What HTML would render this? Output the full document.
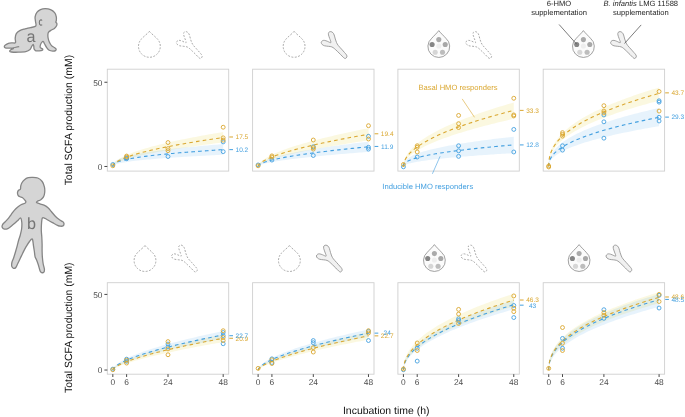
<!DOCTYPE html><html><head><meta charset="utf-8"><style>html,body{margin:0;padding:0;background:#fff;width:685px;height:417px;overflow:hidden}svg{display:block;will-change:transform;text-rendering:geometricPrecision;font-family:"Liberation Sans",sans-serif}</style></head><body>
<svg width="685" height="417" viewBox="0 0 685 417">
<rect width="685" height="417" fill="#fff"/>
<clipPath id="cp00"><rect x="107.3" y="69.2" width="121.4" height="101.9"/></clipPath>
<g clip-path="url(#cp00)">
<path d="M112.82,166.47 L112.93,165.6 L113.16,164.87 L113.51,164.14 L113.97,163.39 L114.54,162.65 L115.12,162.03 L116.27,160.97 L117.42,160.07 L118.57,159.27 L119.72,158.55 L122.02,157.24 L124.31,156.09 L126.61,155.04 L128.91,154.07 L131.21,153.16 L133.51,152.3 L135.81,151.49 L138.11,150.71 L140.41,149.96 L142.71,149.25 L145.01,148.56 L147.31,147.89 L149.61,147.24 L151.91,146.61 L154.2,146 L156.5,145.41 L158.8,144.82 L161.1,144.26 L163.4,143.7 L165.7,143.16 L168,142.62 L170.3,142.1 L172.6,141.59 L174.9,141.08 L177.2,140.59 L179.5,140.1 L181.8,139.62 L184.09,139.15 L186.39,138.68 L188.69,138.23 L190.99,137.77 L193.29,137.33 L195.59,136.89 L197.89,136.45 L200.19,136.02 L202.49,135.6 L204.79,135.18 L207.09,134.77 L209.39,134.36 L211.69,133.95 L213.98,133.55 L216.28,133.16 L218.58,132.77 L220.88,132.38 L223.18,131.99 L223.18,142.42 L220.88,142.71 L218.58,143 L216.28,143.29 L213.98,143.58 L211.69,143.88 L209.39,144.18 L207.09,144.49 L204.79,144.79 L202.49,145.1 L200.19,145.42 L197.89,145.73 L195.59,146.05 L193.29,146.38 L190.99,146.71 L188.69,147.04 L186.39,147.38 L184.09,147.72 L181.8,148.07 L179.5,148.42 L177.2,148.78 L174.9,149.14 L172.6,149.51 L170.3,149.89 L168,150.27 L165.7,150.66 L163.4,151.05 L161.1,151.46 L158.8,151.87 L156.5,152.29 L154.2,152.72 L151.91,153.16 L149.61,153.62 L147.31,154.08 L145.01,154.56 L142.71,155.06 L140.41,155.57 L138.11,156.1 L135.81,156.65 L133.51,157.22 L131.21,157.83 L128.91,158.47 L126.61,159.14 L124.31,159.87 L122.02,160.67 L119.72,161.55 L118.57,162.05 L117.42,162.58 L116.27,163.18 L115.12,163.87 L114.54,164.27 L113.97,164.73 L113.51,165.16 L113.16,165.57 L112.93,165.98 L112.82,166.47 Z" fill="rgba(225,205,50,0.15)" stroke="none"/>
<path d="M112.82,166.47 L112.93,165.01 L113.16,164.16 L113.51,163.38 L113.97,162.65 L114.54,162.01 L115.12,161.49 L116.27,160.65 L117.42,159.97 L118.57,159.38 L119.72,158.86 L122.02,157.97 L124.31,157.2 L126.61,156.52 L128.91,155.91 L131.21,155.34 L133.51,154.82 L135.81,154.33 L138.11,153.88 L140.41,153.44 L142.71,153.03 L145.01,152.63 L147.31,152.26 L149.61,151.89 L151.91,151.55 L154.2,151.21 L156.5,150.88 L158.8,150.57 L161.1,150.26 L163.4,149.96 L165.7,149.68 L168,149.39 L170.3,149.12 L172.6,148.85 L174.9,148.59 L177.2,148.33 L179.5,148.08 L181.8,147.84 L184.09,147.59 L186.39,147.36 L188.69,147.13 L190.99,146.9 L193.29,146.68 L195.59,146.46 L197.89,146.24 L200.19,146.03 L202.49,145.82 L204.79,145.61 L207.09,145.41 L209.39,145.21 L211.69,145.01 L213.98,144.82 L216.28,144.63 L218.58,144.44 L220.88,144.25 L223.18,144.07 L223.18,154.68 L220.88,154.79 L218.58,154.91 L216.28,155.02 L213.98,155.14 L211.69,155.26 L209.39,155.38 L207.09,155.5 L204.79,155.63 L202.49,155.75 L200.19,155.88 L197.89,156.01 L195.59,156.14 L193.29,156.28 L190.99,156.41 L188.69,156.55 L186.39,156.69 L184.09,156.83 L181.8,156.98 L179.5,157.13 L177.2,157.28 L174.9,157.43 L172.6,157.59 L170.3,157.75 L168,157.91 L165.7,158.08 L163.4,158.25 L161.1,158.43 L158.8,158.61 L156.5,158.79 L154.2,158.98 L151.91,159.18 L149.61,159.38 L147.31,159.59 L145.01,159.81 L142.71,160.04 L140.41,160.28 L138.11,160.53 L135.81,160.79 L133.51,161.06 L131.21,161.35 L128.91,161.67 L126.61,162.01 L124.31,162.38 L122.02,162.79 L119.72,163.27 L118.57,163.54 L117.42,163.84 L116.27,164.18 L115.12,164.6 L114.54,164.85 L113.97,165.15 L113.51,165.4 L113.16,165.67 L112.93,165.96 L112.82,166.47 Z" fill="rgba(70,160,230,0.13)" stroke="none"/>
<path d="M112.82,166.47 L112.93,165.51 L113.16,164.95 L113.51,164.44 L113.97,163.96 L114.54,163.5 L115.12,163.12 L116.27,162.5 L117.42,161.99 L118.57,161.56 L119.72,161.17 L122.02,160.49 L124.31,159.91 L126.61,159.39 L128.91,158.92 L131.21,158.49 L133.51,158.09 L135.81,157.71 L138.11,157.36 L140.41,157.02 L142.71,156.7 L145.01,156.39 L147.31,156.1 L149.61,155.82 L151.91,155.54 L154.2,155.28 L156.5,155.03 L158.8,154.78 L161.1,154.54 L163.4,154.3 L165.7,154.08 L168,153.85 L170.3,153.64 L172.6,153.43 L174.9,153.22 L177.2,153.02 L179.5,152.82 L181.8,152.62 L184.09,152.43 L186.39,152.25 L188.69,152.06 L190.99,151.88 L193.29,151.7 L195.59,151.53 L197.89,151.36 L200.19,151.19 L202.49,151.02 L204.79,150.86 L207.09,150.7 L209.39,150.54 L211.69,150.38 L213.98,150.23 L216.28,150.07 L218.58,149.92 L220.88,149.77 L223.18,149.63" fill="none" stroke="#44A0E0" stroke-width="1.1" stroke-dasharray="3.6 3.2"/>
<path d="M112.82,166.47 L112.93,165.8 L113.16,165.24 L113.51,164.68 L113.97,164.1 L114.54,163.51 L115.12,163 L116.27,162.14 L117.42,161.4 L118.57,160.74 L119.72,160.13 L122.02,159.05 L124.31,158.09 L126.61,157.2 L128.91,156.39 L131.21,155.62 L133.51,154.9 L135.81,154.21 L138.11,153.55 L140.41,152.92 L142.71,152.31 L145.01,151.73 L147.31,151.16 L149.61,150.61 L151.91,150.07 L154.2,149.55 L156.5,149.04 L158.8,148.54 L161.1,148.06 L163.4,147.58 L165.7,147.11 L168,146.66 L170.3,146.21 L172.6,145.77 L174.9,145.34 L177.2,144.91 L179.5,144.49 L181.8,144.08 L184.09,143.67 L186.39,143.27 L188.69,142.88 L190.99,142.49 L193.29,142.1 L195.59,141.73 L197.89,141.35 L200.19,140.98 L202.49,140.62 L204.79,140.25 L207.09,139.9 L209.39,139.54 L211.69,139.19 L213.98,138.85 L216.28,138.51 L218.58,138.17 L220.88,137.83 L223.18,137.5" fill="none" stroke="#DAA730" stroke-width="1.1" stroke-dasharray="3.6 3.2"/>
<circle cx="112.82" cy="164.45" r="1.95" fill="none" stroke="#44A0E0" stroke-width="0.9"/>
<circle cx="126.61" cy="158.05" r="1.95" fill="none" stroke="#44A0E0" stroke-width="0.9"/>
<circle cx="126.61" cy="158.72" r="1.95" fill="none" stroke="#44A0E0" stroke-width="0.9"/>
<circle cx="168" cy="156.53" r="1.95" fill="none" stroke="#44A0E0" stroke-width="0.9"/>
<circle cx="223.18" cy="141.88" r="1.95" fill="none" stroke="#44A0E0" stroke-width="0.9"/>
<circle cx="223.18" cy="151.65" r="1.95" fill="none" stroke="#44A0E0" stroke-width="0.9"/>
<circle cx="112.82" cy="165.79" r="1.95" fill="none" stroke="#DAA730" stroke-width="0.9"/>
<circle cx="126.61" cy="156.03" r="1.95" fill="none" stroke="#DAA730" stroke-width="0.9"/>
<circle cx="126.61" cy="157.04" r="1.95" fill="none" stroke="#DAA730" stroke-width="0.9"/>
<circle cx="168" cy="142.55" r="1.95" fill="none" stroke="#DAA730" stroke-width="0.9"/>
<circle cx="168" cy="148.61" r="1.95" fill="none" stroke="#DAA730" stroke-width="0.9"/>
<circle cx="168" cy="150.64" r="1.95" fill="none" stroke="#DAA730" stroke-width="0.9"/>
<circle cx="223.18" cy="127.22" r="1.95" fill="none" stroke="#DAA730" stroke-width="0.9"/>
<circle cx="223.18" cy="137.84" r="1.95" fill="none" stroke="#DAA730" stroke-width="0.9"/>
<circle cx="223.18" cy="140.19" r="1.95" fill="none" stroke="#DAA730" stroke-width="0.9"/>
</g>
<rect x="107.3" y="69.2" width="121.4" height="101.9" fill="none" stroke="#cfcfcf" stroke-width="0.9"/>
<line x1="229.3" y1="136.99" x2="233" y2="136.99" stroke="#DAA730" stroke-width="1"/>
<text x="241.9" y="139.34" font-size="6.5" fill="#DAA730" text-anchor="middle">17.5</text>
<line x1="229.3" y1="149.63" x2="233" y2="149.63" stroke="#44A0E0" stroke-width="1"/>
<text x="241.9" y="151.98" font-size="6.5" fill="#44A0E0" text-anchor="middle">10.2</text>
<clipPath id="cp01"><rect x="252.6" y="69.2" width="121.4" height="101.9"/></clipPath>
<g clip-path="url(#cp01)">
<path d="M258.12,166.47 L258.23,165.74 L258.46,165.08 L258.81,164.37 L259.27,163.64 L259.84,162.91 L260.42,162.27 L261.57,161.19 L262.72,160.25 L263.87,159.4 L265.02,158.63 L267.32,157.23 L269.61,155.98 L271.91,154.83 L274.21,153.76 L276.51,152.75 L278.81,151.8 L281.11,150.88 L283.41,150.01 L285.71,149.17 L288.01,148.36 L290.31,147.58 L292.61,146.82 L294.91,146.08 L297.21,145.36 L299.5,144.65 L301.8,143.97 L304.1,143.3 L306.4,142.64 L308.7,142 L311,141.36 L313.3,140.74 L315.6,140.14 L317.9,139.54 L320.2,138.95 L322.5,138.37 L324.8,137.8 L327.1,137.23 L329.39,136.68 L331.69,136.13 L333.99,135.59 L336.29,135.06 L338.59,134.53 L340.89,134.01 L343.19,133.5 L345.49,132.99 L347.79,132.49 L350.09,131.99 L352.39,131.5 L354.69,131.01 L356.99,130.53 L359.28,130.05 L361.58,129.58 L363.88,129.11 L366.18,128.65 L368.48,128.19 L368.48,140.41 L366.18,140.74 L363.88,141.08 L361.58,141.42 L359.28,141.77 L356.99,142.11 L354.69,142.46 L352.39,142.81 L350.09,143.17 L347.79,143.53 L345.49,143.89 L343.19,144.26 L340.89,144.63 L338.59,145 L336.29,145.38 L333.99,145.77 L331.69,146.15 L329.39,146.55 L327.1,146.94 L324.8,147.35 L322.5,147.76 L320.2,148.17 L317.9,148.59 L315.6,149.02 L313.3,149.45 L311,149.89 L308.7,150.34 L306.4,150.79 L304.1,151.26 L301.8,151.73 L299.5,152.21 L297.21,152.71 L294.91,153.21 L292.61,153.73 L290.31,154.26 L288.01,154.81 L285.71,155.37 L283.41,155.95 L281.11,156.55 L278.81,157.18 L276.51,157.83 L274.21,158.52 L271.91,159.24 L269.61,160.02 L267.32,160.85 L265.02,161.77 L263.87,162.28 L262.72,162.82 L261.57,163.42 L260.42,164.11 L259.84,164.5 L259.27,164.94 L258.81,165.34 L258.46,165.72 L258.23,166.08 L258.12,166.47 Z" fill="rgba(225,205,50,0.15)" stroke="none"/>
<path d="M258.12,166.47 L258.23,165.79 L258.46,165.24 L258.81,164.68 L259.27,164.11 L259.84,163.57 L260.42,163.11 L261.57,162.33 L262.72,161.67 L263.87,161.09 L265.02,160.56 L267.32,159.61 L269.61,158.78 L271.91,158.02 L274.21,157.32 L276.51,156.66 L278.81,156.05 L281.11,155.47 L283.41,154.91 L285.71,154.38 L288.01,153.86 L290.31,153.37 L292.61,152.89 L294.91,152.43 L297.21,151.98 L299.5,151.55 L301.8,151.12 L304.1,150.71 L306.4,150.31 L308.7,149.91 L311,149.53 L313.3,149.15 L315.6,148.78 L317.9,148.41 L320.2,148.06 L322.5,147.7 L324.8,147.36 L327.1,147.02 L329.39,146.69 L331.69,146.36 L333.99,146.03 L336.29,145.71 L338.59,145.4 L340.89,145.09 L343.19,144.78 L345.49,144.48 L347.79,144.18 L350.09,143.88 L352.39,143.59 L354.69,143.3 L356.99,143.02 L359.28,142.74 L361.58,142.46 L363.88,142.18 L366.18,141.91 L368.48,141.64 L368.48,151.89 L366.18,152.06 L363.88,152.24 L361.58,152.42 L359.28,152.6 L356.99,152.78 L354.69,152.97 L352.39,153.15 L350.09,153.34 L347.79,153.53 L345.49,153.72 L343.19,153.92 L340.89,154.11 L338.59,154.31 L336.29,154.52 L333.99,154.72 L331.69,154.93 L329.39,155.14 L327.1,155.35 L324.8,155.57 L322.5,155.78 L320.2,156.01 L317.9,156.23 L315.6,156.46 L313.3,156.7 L311,156.94 L308.7,157.18 L306.4,157.43 L304.1,157.68 L301.8,157.94 L299.5,158.2 L297.21,158.47 L294.91,158.75 L292.61,159.03 L290.31,159.32 L288.01,159.63 L285.71,159.94 L283.41,160.26 L281.11,160.6 L278.81,160.95 L276.51,161.32 L274.21,161.7 L271.91,162.12 L269.61,162.56 L267.32,163.04 L265.02,163.58 L263.87,163.87 L262.72,164.2 L261.57,164.56 L260.42,164.97 L259.84,165.21 L259.27,165.48 L258.81,165.72 L258.46,165.95 L258.23,166.18 L258.12,166.47 Z" fill="rgba(70,160,230,0.13)" stroke="none"/>
<path d="M258.12,166.47 L258.23,165.99 L258.46,165.6 L258.81,165.2 L259.27,164.8 L259.84,164.39 L260.42,164.04 L261.57,163.44 L262.72,162.93 L263.87,162.48 L265.02,162.07 L267.32,161.33 L269.61,160.67 L271.91,160.07 L274.21,159.51 L276.51,158.99 L278.81,158.5 L281.11,158.03 L283.41,157.59 L285.71,157.16 L288.01,156.75 L290.31,156.35 L292.61,155.96 L294.91,155.59 L297.21,155.23 L299.5,154.87 L301.8,154.53 L304.1,154.19 L306.4,153.87 L308.7,153.55 L311,153.23 L313.3,152.92 L315.6,152.62 L317.9,152.32 L320.2,152.03 L322.5,151.74 L324.8,151.46 L327.1,151.18 L329.39,150.91 L331.69,150.64 L333.99,150.38 L336.29,150.11 L338.59,149.86 L340.89,149.6 L343.19,149.35 L345.49,149.1 L347.79,148.86 L350.09,148.61 L352.39,148.37 L354.69,148.13 L356.99,147.9 L359.28,147.67 L361.58,147.44 L363.88,147.21 L366.18,146.99 L368.48,146.76" fill="none" stroke="#44A0E0" stroke-width="1.1" stroke-dasharray="3.6 3.2"/>
<path d="M258.12,166.47 L258.23,165.91 L258.46,165.4 L258.81,164.86 L259.27,164.29 L259.84,163.7 L260.42,163.19 L261.57,162.31 L262.72,161.54 L263.87,160.84 L265.02,160.2 L267.32,159.04 L269.61,158 L271.91,157.04 L274.21,156.14 L276.51,155.29 L278.81,154.49 L281.11,153.72 L283.41,152.98 L285.71,152.27 L288.01,151.58 L290.31,150.92 L292.61,150.27 L294.91,149.64 L297.21,149.03 L299.5,148.43 L301.8,147.85 L304.1,147.28 L306.4,146.72 L308.7,146.17 L311,145.63 L313.3,145.1 L315.6,144.58 L317.9,144.06 L320.2,143.56 L322.5,143.06 L324.8,142.57 L327.1,142.09 L329.39,141.61 L331.69,141.14 L333.99,140.68 L336.29,140.22 L338.59,139.77 L340.89,139.32 L343.19,138.88 L345.49,138.44 L347.79,138.01 L350.09,137.58 L352.39,137.16 L354.69,136.74 L356.99,136.32 L359.28,135.91 L361.58,135.5 L363.88,135.1 L366.18,134.7 L368.48,134.3" fill="none" stroke="#DAA730" stroke-width="1.1" stroke-dasharray="3.6 3.2"/>
<circle cx="258.12" cy="164.95" r="1.95" fill="none" stroke="#44A0E0" stroke-width="0.9"/>
<circle cx="271.91" cy="160.07" r="1.95" fill="none" stroke="#44A0E0" stroke-width="0.9"/>
<circle cx="313.3" cy="146.76" r="1.95" fill="none" stroke="#44A0E0" stroke-width="0.9"/>
<circle cx="313.3" cy="155.52" r="1.95" fill="none" stroke="#44A0E0" stroke-width="0.9"/>
<circle cx="368.48" cy="136.32" r="1.95" fill="none" stroke="#44A0E0" stroke-width="0.9"/>
<circle cx="368.48" cy="147.27" r="1.95" fill="none" stroke="#44A0E0" stroke-width="0.9"/>
<circle cx="368.48" cy="149.12" r="1.95" fill="none" stroke="#44A0E0" stroke-width="0.9"/>
<circle cx="258.12" cy="165.79" r="1.95" fill="none" stroke="#DAA730" stroke-width="0.9"/>
<circle cx="271.91" cy="155.86" r="1.95" fill="none" stroke="#DAA730" stroke-width="0.9"/>
<circle cx="271.91" cy="157.04" r="1.95" fill="none" stroke="#DAA730" stroke-width="0.9"/>
<circle cx="313.3" cy="140.02" r="1.95" fill="none" stroke="#DAA730" stroke-width="0.9"/>
<circle cx="313.3" cy="147.6" r="1.95" fill="none" stroke="#DAA730" stroke-width="0.9"/>
<circle cx="313.3" cy="149.12" r="1.95" fill="none" stroke="#DAA730" stroke-width="0.9"/>
<circle cx="368.48" cy="125.71" r="1.95" fill="none" stroke="#DAA730" stroke-width="0.9"/>
<circle cx="368.48" cy="139.01" r="1.95" fill="none" stroke="#DAA730" stroke-width="0.9"/>
</g>
<rect x="252.6" y="69.2" width="121.4" height="101.9" fill="none" stroke="#cfcfcf" stroke-width="0.9"/>
<line x1="374.6" y1="133.79" x2="378.3" y2="133.79" stroke="#DAA730" stroke-width="1"/>
<text x="387.2" y="136.14" font-size="6.5" fill="#DAA730" text-anchor="middle">19.4</text>
<line x1="374.6" y1="146.43" x2="378.3" y2="146.43" stroke="#44A0E0" stroke-width="1"/>
<text x="387.2" y="148.78" font-size="6.5" fill="#44A0E0" text-anchor="middle">11.9</text>
<clipPath id="cp02"><rect x="397.9" y="69.2" width="121.4" height="101.9"/></clipPath>
<g clip-path="url(#cp02)">
<path d="M403.42,166.47 L403.53,164.36 L403.76,162.79 L404.11,161.25 L404.57,159.7 L405.14,158.22 L405.72,156.97 L406.87,154.88 L408.02,153.12 L409.17,151.58 L410.32,150.18 L412.62,147.71 L414.91,145.53 L417.21,143.56 L419.51,141.76 L421.81,140.08 L424.11,138.5 L426.41,137.01 L428.71,135.59 L431.01,134.24 L433.31,132.94 L435.61,131.69 L437.91,130.48 L440.21,129.32 L442.51,128.19 L444.8,127.09 L447.1,126.03 L449.4,124.99 L451.7,123.98 L454,122.99 L456.3,122.03 L458.6,121.08 L460.9,120.16 L463.2,119.25 L465.5,118.36 L467.8,117.49 L470.1,116.63 L472.4,115.79 L474.69,114.96 L476.99,114.15 L479.29,113.35 L481.59,112.56 L483.89,111.78 L486.19,111.01 L488.49,110.25 L490.79,109.51 L493.09,108.77 L495.39,108.04 L497.69,107.33 L499.99,106.62 L502.29,105.92 L504.58,105.22 L506.88,104.54 L509.18,103.86 L511.48,103.19 L513.78,102.53 L513.78,118.79 L511.48,119.32 L509.18,119.85 L506.88,120.38 L504.58,120.92 L502.29,121.47 L499.99,122.02 L497.69,122.58 L495.39,123.15 L493.09,123.72 L490.79,124.3 L488.49,124.88 L486.19,125.48 L483.89,126.08 L481.59,126.69 L479.29,127.31 L476.99,127.94 L474.69,128.58 L472.4,129.22 L470.1,129.88 L467.8,130.55 L465.5,131.23 L463.2,131.92 L460.9,132.63 L458.6,133.35 L456.3,134.08 L454,134.83 L451.7,135.6 L449.4,136.38 L447.1,137.18 L444.8,138 L442.51,138.85 L440.21,139.72 L437.91,140.61 L435.61,141.54 L433.31,142.49 L431.01,143.49 L428.71,144.52 L426.41,145.6 L424.11,146.73 L421.81,147.92 L419.51,149.18 L417.21,150.54 L414.91,152.01 L412.62,153.62 L410.32,155.44 L409.17,156.46 L408.02,157.58 L406.87,158.85 L405.72,160.33 L405.14,161.21 L404.57,162.24 L404.11,163.2 L403.76,164.17 L403.53,165.15 L403.42,166.47 Z" fill="rgba(225,205,50,0.15)" stroke="none"/>
<path d="M403.42,166.47 L403.53,164.71 L403.76,163.63 L404.11,162.64 L404.57,161.69 L405.14,160.86 L405.72,160.18 L406.87,159.08 L408.02,158.18 L409.17,157.41 L410.32,156.73 L412.62,155.54 L414.91,154.52 L417.21,153.61 L419.51,152.79 L421.81,152.04 L424.11,151.34 L426.41,150.68 L428.71,150.07 L431.01,149.48 L433.31,148.92 L435.61,148.39 L437.91,147.88 L440.21,147.39 L442.51,146.92 L444.8,146.46 L447.1,146.02 L449.4,145.59 L451.7,145.18 L454,144.77 L456.3,144.38 L458.6,144 L460.9,143.62 L463.2,143.26 L465.5,142.9 L467.8,142.55 L470.1,142.21 L472.4,141.88 L474.69,141.55 L476.99,141.22 L479.29,140.91 L481.59,140.6 L483.89,140.29 L486.19,139.99 L488.49,139.7 L490.79,139.41 L493.09,139.12 L495.39,138.84 L497.69,138.56 L499.99,138.28 L502.29,138.01 L504.58,137.75 L506.88,137.49 L509.18,137.23 L511.48,136.97 L513.78,136.72 L513.78,153.1 L511.48,153.24 L509.18,153.38 L506.88,153.52 L504.58,153.66 L502.29,153.81 L499.99,153.96 L497.69,154.11 L495.39,154.26 L493.09,154.41 L490.79,154.56 L488.49,154.72 L486.19,154.88 L483.89,155.04 L481.59,155.2 L479.29,155.37 L476.99,155.54 L474.69,155.71 L472.4,155.89 L470.1,156.06 L467.8,156.24 L465.5,156.43 L463.2,156.62 L460.9,156.81 L458.6,157 L456.3,157.2 L454,157.41 L451.7,157.62 L449.4,157.83 L447.1,158.05 L444.8,158.28 L442.51,158.51 L440.21,158.75 L437.91,159 L435.61,159.26 L433.31,159.53 L431.01,159.8 L428.71,160.09 L426.41,160.4 L424.11,160.72 L421.81,161.06 L419.51,161.42 L417.21,161.81 L414.91,162.23 L412.62,162.7 L410.32,163.23 L409.17,163.53 L408.02,163.87 L406.87,164.25 L405.72,164.69 L405.14,164.96 L404.57,165.27 L404.11,165.51 L403.76,165.76 L403.53,166.03 L403.42,166.47 Z" fill="rgba(70,160,230,0.13)" stroke="none"/>
<path d="M403.42,166.47 L403.53,165.37 L403.76,164.7 L404.11,164.08 L404.57,163.48 L405.14,162.91 L405.72,162.44 L406.87,161.66 L408.02,161.03 L409.17,160.47 L410.32,159.98 L412.62,159.12 L414.91,158.37 L417.21,157.71 L419.51,157.11 L421.81,156.55 L424.11,156.03 L426.41,155.54 L428.71,155.08 L431.01,154.64 L433.31,154.23 L435.61,153.83 L437.91,153.44 L440.21,153.07 L442.51,152.72 L444.8,152.37 L447.1,152.04 L449.4,151.71 L451.7,151.4 L454,151.09 L456.3,150.79 L458.6,150.5 L460.9,150.22 L463.2,149.94 L465.5,149.67 L467.8,149.4 L470.1,149.14 L472.4,148.88 L474.69,148.63 L476.99,148.38 L479.29,148.14 L481.59,147.9 L483.89,147.67 L486.19,147.44 L488.49,147.21 L490.79,146.98 L493.09,146.76 L495.39,146.55 L497.69,146.33 L499.99,146.12 L502.29,145.91 L504.58,145.71 L506.88,145.5 L509.18,145.3 L511.48,145.1 L513.78,144.91" fill="none" stroke="#44A0E0" stroke-width="1.1" stroke-dasharray="3.6 3.2"/>
<path d="M403.42,166.47 L403.53,164.74 L403.76,163.46 L404.11,162.19 L404.57,160.93 L405.14,159.66 L405.72,158.59 L406.87,156.8 L408.02,155.28 L409.17,153.94 L410.32,152.72 L412.62,150.56 L414.91,148.66 L417.21,146.93 L419.51,145.34 L421.81,143.86 L424.11,142.47 L426.41,141.15 L428.71,139.9 L431.01,138.7 L433.31,137.55 L435.61,136.44 L437.91,135.37 L440.21,134.34 L442.51,133.34 L444.8,132.36 L447.1,131.41 L449.4,130.49 L451.7,129.59 L454,128.71 L456.3,127.85 L458.6,127 L460.9,126.18 L463.2,125.37 L465.5,124.58 L467.8,123.8 L470.1,123.03 L472.4,122.28 L474.69,121.53 L476.99,120.81 L479.29,120.09 L481.59,119.38 L483.89,118.68 L486.19,117.99 L488.49,117.32 L490.79,116.65 L493.09,115.99 L495.39,115.33 L497.69,114.69 L499.99,114.05 L502.29,113.42 L504.58,112.8 L506.88,112.19 L509.18,111.58 L511.48,110.98 L513.78,110.38" fill="none" stroke="#DAA730" stroke-width="1.1" stroke-dasharray="3.6 3.2"/>
<circle cx="403.42" cy="166.81" r="1.95" fill="none" stroke="#44A0E0" stroke-width="0.9"/>
<circle cx="417.21" cy="157.04" r="1.95" fill="none" stroke="#44A0E0" stroke-width="0.9"/>
<circle cx="458.6" cy="145.75" r="1.95" fill="none" stroke="#44A0E0" stroke-width="0.9"/>
<circle cx="458.6" cy="150.8" r="1.95" fill="none" stroke="#44A0E0" stroke-width="0.9"/>
<circle cx="458.6" cy="156.36" r="1.95" fill="none" stroke="#44A0E0" stroke-width="0.9"/>
<circle cx="513.78" cy="129.41" r="1.95" fill="none" stroke="#44A0E0" stroke-width="0.9"/>
<circle cx="513.78" cy="151.98" r="1.95" fill="none" stroke="#44A0E0" stroke-width="0.9"/>
<circle cx="403.42" cy="164.45" r="1.95" fill="none" stroke="#DAA730" stroke-width="0.9"/>
<circle cx="417.21" cy="145.75" r="1.95" fill="none" stroke="#DAA730" stroke-width="0.9"/>
<circle cx="417.21" cy="147.27" r="1.95" fill="none" stroke="#DAA730" stroke-width="0.9"/>
<circle cx="417.21" cy="151.98" r="1.95" fill="none" stroke="#DAA730" stroke-width="0.9"/>
<circle cx="458.6" cy="115.43" r="1.95" fill="none" stroke="#DAA730" stroke-width="0.9"/>
<circle cx="458.6" cy="123.69" r="1.95" fill="none" stroke="#DAA730" stroke-width="0.9"/>
<circle cx="458.6" cy="127.56" r="1.95" fill="none" stroke="#DAA730" stroke-width="0.9"/>
<circle cx="513.78" cy="98.25" r="1.95" fill="none" stroke="#DAA730" stroke-width="0.9"/>
<circle cx="513.78" cy="114.93" r="1.95" fill="none" stroke="#DAA730" stroke-width="0.9"/>
<circle cx="513.78" cy="115.94" r="1.95" fill="none" stroke="#DAA730" stroke-width="0.9"/>
</g>
<rect x="397.9" y="69.2" width="121.4" height="101.9" fill="none" stroke="#cfcfcf" stroke-width="0.9"/>
<line x1="519.9" y1="110.38" x2="523.6" y2="110.38" stroke="#DAA730" stroke-width="1"/>
<text x="532.5" y="112.73" font-size="6.5" fill="#DAA730" text-anchor="middle">33.3</text>
<line x1="519.9" y1="144.91" x2="523.6" y2="144.91" stroke="#44A0E0" stroke-width="1"/>
<text x="532.5" y="147.26" font-size="6.5" fill="#44A0E0" text-anchor="middle">12.8</text>
<clipPath id="cp03"><rect x="543.2" y="69.2" width="121.4" height="101.9"/></clipPath>
<g clip-path="url(#cp03)">
<path d="M548.72,166.47 L548.83,161.97 L549.06,159.3 L549.41,156.86 L549.87,154.54 L550.44,152.37 L551.02,150.59 L552.17,147.7 L553.32,145.33 L554.47,143.29 L555.62,141.47 L557.92,138.31 L560.21,135.59 L562.51,133.16 L564.81,130.97 L567.11,128.95 L569.41,127.07 L571.71,125.31 L574.01,123.65 L576.31,122.08 L578.61,120.58 L580.91,119.15 L583.21,117.77 L585.51,116.45 L587.81,115.18 L590.1,113.94 L592.4,112.75 L594.7,111.6 L597,110.47 L599.3,109.38 L601.6,108.32 L603.9,107.28 L606.2,106.27 L608.5,105.28 L610.8,104.31 L613.1,103.37 L615.4,102.44 L617.7,101.53 L619.99,100.64 L622.29,99.77 L624.59,98.91 L626.89,98.07 L629.19,97.24 L631.49,96.42 L633.79,95.62 L636.09,94.83 L638.39,94.05 L640.69,93.28 L642.99,92.53 L645.29,91.79 L647.59,91.05 L649.88,90.33 L652.18,89.61 L654.48,88.91 L656.78,88.21 L659.08,87.52 L659.08,100.68 L656.78,101.28 L654.48,101.88 L652.18,102.5 L649.88,103.12 L647.59,103.75 L645.29,104.39 L642.99,105.03 L640.69,105.69 L638.39,106.35 L636.09,107.03 L633.79,107.71 L631.49,108.41 L629.19,109.12 L626.89,109.84 L624.59,110.57 L622.29,111.31 L619.99,112.06 L617.7,112.84 L615.4,113.62 L613.1,114.42 L610.8,115.24 L608.5,116.07 L606.2,116.93 L603.9,117.8 L601.6,118.69 L599.3,119.61 L597,120.55 L594.7,121.51 L592.4,122.5 L590.1,123.53 L587.81,124.58 L585.51,125.68 L583.21,126.81 L580.91,127.98 L578.61,129.21 L576.31,130.48 L574.01,131.82 L571.71,133.24 L569.41,134.73 L567.11,136.32 L564.81,138.03 L562.51,139.88 L560.21,141.92 L557.92,144.21 L555.62,146.84 L554.47,148.35 L553.32,150.04 L552.17,151.99 L551.02,154.36 L550.44,155.8 L549.87,157.55 L549.41,159.28 L549.06,161.11 L548.83,163.1 L548.72,166.47 Z" fill="rgba(225,205,50,0.15)" stroke="none"/>
<path d="M548.72,166.47 L548.83,163.44 L549.06,161.53 L549.41,159.75 L549.87,158.04 L550.44,156.47 L551.02,155.18 L552.17,153.07 L553.32,151.34 L554.47,149.84 L555.62,148.5 L557.92,146.17 L560.21,144.16 L562.51,142.36 L564.81,140.73 L567.11,139.22 L569.41,137.82 L571.71,136.51 L574.01,135.27 L576.31,134.09 L578.61,132.97 L580.91,131.89 L583.21,130.86 L585.51,129.87 L587.81,128.91 L590.1,127.98 L592.4,127.08 L594.7,126.21 L597,125.36 L599.3,124.54 L601.6,123.74 L603.9,122.95 L606.2,122.19 L608.5,121.44 L610.8,120.71 L613.1,119.99 L615.4,119.29 L617.7,118.6 L619.99,117.92 L622.29,117.26 L624.59,116.61 L626.89,115.97 L629.19,115.34 L631.49,114.72 L633.79,114.11 L636.09,113.51 L638.39,112.92 L640.69,112.33 L642.99,111.76 L645.29,111.19 L647.59,110.63 L649.88,110.08 L652.18,109.54 L654.48,109 L656.78,108.47 L659.08,107.94 L659.08,126.14 L656.78,126.53 L654.48,126.93 L652.18,127.33 L649.88,127.74 L647.59,128.15 L645.29,128.57 L642.99,129 L640.69,129.43 L638.39,129.86 L636.09,130.3 L633.79,130.75 L631.49,131.2 L629.19,131.66 L626.89,132.13 L624.59,132.61 L622.29,133.09 L619.99,133.58 L617.7,134.08 L615.4,134.59 L613.1,135.11 L610.8,135.64 L608.5,136.18 L606.2,136.73 L603.9,137.29 L601.6,137.86 L599.3,138.45 L597,139.06 L594.7,139.68 L592.4,140.31 L590.1,140.97 L587.81,141.64 L585.51,142.34 L583.21,143.06 L580.91,143.8 L578.61,144.58 L576.31,145.39 L574.01,146.23 L571.71,147.12 L569.41,148.05 L567.11,149.05 L564.81,150.11 L562.51,151.26 L560.21,152.52 L557.92,153.91 L555.62,155.52 L554.47,156.43 L553.32,157.44 L552.17,158.6 L551.02,159.99 L550.44,160.82 L549.87,161.83 L549.41,162.77 L549.06,163.75 L548.83,164.8 L548.72,166.47 Z" fill="rgba(70,160,230,0.13)" stroke="none"/>
<path d="M548.72,166.47 L548.83,164.14 L549.06,162.67 L549.41,161.3 L549.87,159.99 L550.44,158.71 L551.02,157.65 L552.17,155.91 L553.32,154.47 L554.47,153.22 L555.62,152.11 L557.92,150.15 L560.21,148.45 L562.51,146.93 L564.81,145.55 L567.11,144.27 L569.41,143.08 L571.71,141.96 L574.01,140.9 L576.31,139.89 L578.61,138.93 L580.91,138.01 L583.21,137.12 L585.51,136.27 L587.81,135.45 L590.1,134.65 L592.4,133.88 L594.7,133.12 L597,132.39 L599.3,131.68 L601.6,130.99 L603.9,130.31 L606.2,129.65 L608.5,129.01 L610.8,128.37 L613.1,127.75 L615.4,127.15 L617.7,126.55 L619.99,125.96 L622.29,125.39 L624.59,124.82 L626.89,124.27 L629.19,123.72 L631.49,123.18 L633.79,122.65 L636.09,122.13 L638.39,121.62 L640.69,121.11 L642.99,120.61 L645.29,120.12 L647.59,119.63 L649.88,119.15 L652.18,118.68 L654.48,118.21 L656.78,117.74 L659.08,117.29" fill="none" stroke="#44A0E0" stroke-width="1.1" stroke-dasharray="3.6 3.2"/>
<path d="M548.72,166.47 L548.83,162.47 L549.06,160.11 L549.41,157.94 L549.87,155.88 L550.44,153.89 L551.02,152.27 L552.17,149.61 L553.32,147.42 L554.47,145.54 L555.62,143.86 L557.92,140.93 L560.21,138.4 L562.51,136.15 L564.81,134.11 L567.11,132.23 L569.41,130.48 L571.71,128.83 L574.01,127.28 L576.31,125.81 L578.61,124.41 L580.91,123.07 L583.21,121.79 L585.51,120.55 L587.81,119.36 L590.1,118.2 L592.4,117.09 L594.7,116 L597,114.95 L599.3,113.93 L601.6,112.93 L603.9,111.95 L606.2,111 L608.5,110.08 L610.8,109.17 L613.1,108.28 L615.4,107.41 L617.7,106.56 L619.99,105.72 L622.29,104.9 L624.59,104.09 L626.89,103.3 L629.19,102.52 L631.49,101.75 L633.79,100.99 L636.09,100.25 L638.39,99.52 L640.69,98.8 L642.99,98.09 L645.29,97.39 L647.59,96.69 L649.88,96.01 L652.18,95.34 L654.48,94.67 L656.78,94.02 L659.08,93.37" fill="none" stroke="#DAA730" stroke-width="1.1" stroke-dasharray="3.6 3.2"/>
<circle cx="562.51" cy="145.75" r="1.95" fill="none" stroke="#44A0E0" stroke-width="0.9"/>
<circle cx="562.51" cy="150.13" r="1.95" fill="none" stroke="#44A0E0" stroke-width="0.9"/>
<circle cx="603.9" cy="114.93" r="1.95" fill="none" stroke="#44A0E0" stroke-width="0.9"/>
<circle cx="603.9" cy="121.83" r="1.95" fill="none" stroke="#44A0E0" stroke-width="0.9"/>
<circle cx="603.9" cy="138.17" r="1.95" fill="none" stroke="#44A0E0" stroke-width="0.9"/>
<circle cx="659.08" cy="100.78" r="1.95" fill="none" stroke="#44A0E0" stroke-width="0.9"/>
<circle cx="659.08" cy="102.13" r="1.95" fill="none" stroke="#44A0E0" stroke-width="0.9"/>
<circle cx="659.08" cy="117.29" r="1.95" fill="none" stroke="#44A0E0" stroke-width="0.9"/>
<circle cx="659.08" cy="120.99" r="1.95" fill="none" stroke="#44A0E0" stroke-width="0.9"/>
<circle cx="548.72" cy="165.96" r="1.95" fill="none" stroke="#DAA730" stroke-width="0.9"/>
<circle cx="548.72" cy="166.97" r="1.95" fill="none" stroke="#DAA730" stroke-width="0.9"/>
<circle cx="562.51" cy="132.61" r="1.95" fill="none" stroke="#DAA730" stroke-width="0.9"/>
<circle cx="562.51" cy="134.3" r="1.95" fill="none" stroke="#DAA730" stroke-width="0.9"/>
<circle cx="562.51" cy="136.15" r="1.95" fill="none" stroke="#DAA730" stroke-width="0.9"/>
<circle cx="603.9" cy="105.67" r="1.95" fill="none" stroke="#DAA730" stroke-width="0.9"/>
<circle cx="603.9" cy="111.05" r="1.95" fill="none" stroke="#DAA730" stroke-width="0.9"/>
<circle cx="603.9" cy="112.91" r="1.95" fill="none" stroke="#DAA730" stroke-width="0.9"/>
<circle cx="659.08" cy="91.52" r="1.95" fill="none" stroke="#DAA730" stroke-width="0.9"/>
<circle cx="659.08" cy="111.05" r="1.95" fill="none" stroke="#DAA730" stroke-width="0.9"/>
</g>
<rect x="543.2" y="69.2" width="121.4" height="101.9" fill="none" stroke="#cfcfcf" stroke-width="0.9"/>
<line x1="665.2" y1="92.86" x2="668.9" y2="92.86" stroke="#DAA730" stroke-width="1"/>
<text x="677.8" y="95.21" font-size="6.5" fill="#DAA730" text-anchor="middle">43.7</text>
<line x1="665.2" y1="117.12" x2="668.9" y2="117.12" stroke="#44A0E0" stroke-width="1"/>
<text x="677.8" y="119.47" font-size="6.5" fill="#44A0E0" text-anchor="middle">29.3</text>
<clipPath id="cp10"><rect x="107.3" y="282.7" width="121.4" height="91.5"/></clipPath>
<g clip-path="url(#cp10)">
<path d="M112.82,370.04 L112.93,369.52 L113.16,368.98 L113.51,368.38 L113.97,367.73 L114.54,367.12 L115.12,366.59 L116.27,365.66 L117.42,364.85 L118.57,364.12 L119.72,363.44 L122.02,362.2 L124.31,361.08 L126.61,360.04 L128.91,359.07 L131.21,358.15 L133.51,357.27 L135.81,356.43 L138.11,355.62 L140.41,354.83 L142.71,354.07 L145.01,353.34 L147.31,352.62 L149.61,351.92 L151.91,351.24 L154.2,350.57 L156.5,349.92 L158.8,349.27 L161.1,348.64 L163.4,348.03 L165.7,347.42 L168,346.82 L170.3,346.23 L172.6,345.65 L174.9,345.08 L177.2,344.52 L179.5,343.96 L181.8,343.41 L184.09,342.87 L186.39,342.33 L188.69,341.8 L190.99,341.28 L193.29,340.76 L195.59,340.25 L197.89,339.74 L200.19,339.24 L202.49,338.75 L204.79,338.25 L207.09,337.77 L209.39,337.28 L211.69,336.8 L213.98,336.33 L216.28,335.86 L218.58,335.39 L220.88,334.93 L223.18,334.47 L223.18,342.09 L220.88,342.49 L218.58,342.89 L216.28,343.29 L213.98,343.69 L211.69,344.1 L209.39,344.51 L207.09,344.93 L204.79,345.35 L202.49,345.77 L200.19,346.19 L197.89,346.62 L195.59,347.06 L193.29,347.49 L190.99,347.93 L188.69,348.38 L186.39,348.83 L184.09,349.29 L181.8,349.75 L179.5,350.21 L177.2,350.68 L174.9,351.16 L172.6,351.64 L170.3,352.13 L168,352.62 L165.7,353.12 L163.4,353.63 L161.1,354.15 L158.8,354.67 L156.5,355.2 L154.2,355.75 L151.91,356.3 L149.61,356.86 L147.31,357.44 L145.01,358.03 L142.71,358.63 L140.41,359.25 L138.11,359.88 L135.81,360.53 L133.51,361.21 L131.21,361.91 L128.91,362.64 L126.61,363.4 L124.31,364.21 L122.02,365.07 L119.72,366 L118.57,366.5 L117.42,367.03 L116.27,367.61 L115.12,368.25 L114.54,368.6 L113.97,368.99 L113.51,369.29 L113.16,369.56 L112.93,369.8 L112.82,370.04 Z" fill="rgba(225,205,50,0.15)" stroke="none"/>
<path d="M112.82,370.04 L112.93,369.33 L113.16,368.66 L113.51,367.93 L113.97,367.15 L114.54,366.43 L115.12,365.81 L116.27,364.73 L117.42,363.8 L118.57,362.96 L119.72,362.19 L122.02,360.8 L124.31,359.55 L126.61,358.39 L128.91,357.32 L131.21,356.3 L133.51,355.34 L135.81,354.42 L138.11,353.53 L140.41,352.68 L142.71,351.86 L145.01,351.06 L147.31,350.29 L149.61,349.53 L151.91,348.8 L154.2,348.08 L156.5,347.38 L158.8,346.69 L161.1,346.02 L163.4,345.36 L165.7,344.71 L168,344.08 L170.3,343.45 L172.6,342.84 L174.9,342.23 L177.2,341.63 L179.5,341.05 L181.8,340.47 L184.09,339.89 L186.39,339.33 L188.69,338.77 L190.99,338.22 L193.29,337.68 L195.59,337.14 L197.89,336.61 L200.19,336.08 L202.49,335.56 L204.79,335.04 L207.09,334.53 L209.39,334.03 L211.69,333.53 L213.98,333.03 L216.28,332.54 L218.58,332.05 L220.88,331.57 L223.18,331.09 L223.18,338.81 L220.88,339.23 L218.58,339.66 L216.28,340.08 L213.98,340.51 L211.69,340.95 L209.39,341.38 L207.09,341.83 L204.79,342.27 L202.49,342.72 L200.19,343.17 L197.89,343.63 L195.59,344.09 L193.29,344.56 L190.99,345.03 L188.69,345.51 L186.39,346 L184.09,346.48 L181.8,346.98 L179.5,347.48 L177.2,347.99 L174.9,348.5 L172.6,349.02 L170.3,349.55 L168,350.08 L165.7,350.63 L163.4,351.18 L161.1,351.74 L158.8,352.32 L156.5,352.9 L154.2,353.49 L151.91,354.1 L149.61,354.72 L147.31,355.35 L145.01,356 L142.71,356.67 L140.41,357.35 L138.11,358.06 L135.81,358.79 L133.51,359.55 L131.21,360.34 L128.91,361.16 L126.61,362.03 L124.31,362.95 L122.02,363.94 L119.72,365.02 L118.57,365.61 L117.42,366.24 L116.27,366.93 L115.12,367.71 L114.54,368.14 L113.97,368.63 L113.51,369.01 L113.16,369.37 L112.93,369.7 L112.82,370.04 Z" fill="rgba(70,160,230,0.13)" stroke="none"/>
<path d="M112.82,370.04 L112.93,369.52 L113.16,369.01 L113.51,368.47 L113.97,367.89 L114.54,367.29 L115.12,366.76 L116.27,365.83 L117.42,365.02 L118.57,364.29 L119.72,363.61 L122.02,362.37 L124.31,361.25 L126.61,360.21 L128.91,359.24 L131.21,358.32 L133.51,357.44 L135.81,356.6 L138.11,355.8 L140.41,355.02 L142.71,354.26 L145.01,353.53 L147.31,352.82 L149.61,352.13 L151.91,351.45 L154.2,350.79 L156.5,350.14 L158.8,349.51 L161.1,348.88 L163.4,348.27 L165.7,347.67 L168,347.08 L170.3,346.5 L172.6,345.93 L174.9,345.37 L177.2,344.81 L179.5,344.26 L181.8,343.72 L184.09,343.19 L186.39,342.66 L188.69,342.14 L190.99,341.63 L193.29,341.12 L195.59,340.62 L197.89,340.12 L200.19,339.63 L202.49,339.14 L204.79,338.66 L207.09,338.18 L209.39,337.71 L211.69,337.24 L213.98,336.77 L216.28,336.31 L218.58,335.86 L220.88,335.4 L223.18,334.95" fill="none" stroke="#44A0E0" stroke-width="1.1" stroke-dasharray="3.6 3.2"/>
<path d="M112.82,370.04 L112.93,369.66 L113.16,369.27 L113.51,368.83 L113.97,368.36 L114.54,367.86 L115.12,367.42 L116.27,366.64 L117.42,365.94 L118.57,365.31 L119.72,364.72 L122.02,363.64 L124.31,362.64 L126.61,361.72 L128.91,360.85 L131.21,360.03 L133.51,359.24 L135.81,358.48 L138.11,357.75 L140.41,357.04 L142.71,356.35 L145.01,355.68 L147.31,355.03 L149.61,354.39 L151.91,353.77 L154.2,353.16 L156.5,352.56 L158.8,351.97 L161.1,351.4 L163.4,350.83 L165.7,350.27 L168,349.72 L170.3,349.18 L172.6,348.65 L174.9,348.12 L177.2,347.6 L179.5,347.09 L181.8,346.58 L184.09,346.08 L186.39,345.58 L188.69,345.09 L190.99,344.61 L193.29,344.13 L195.59,343.65 L197.89,343.18 L200.19,342.72 L202.49,342.26 L204.79,341.8 L207.09,341.35 L209.39,340.9 L211.69,340.45 L213.98,340.01 L216.28,339.57 L218.58,339.14 L220.88,338.71 L223.18,338.28" fill="none" stroke="#DAA730" stroke-width="1.1" stroke-dasharray="3.6 3.2"/>
<circle cx="112.82" cy="369.13" r="1.95" fill="none" stroke="#44A0E0" stroke-width="0.9"/>
<circle cx="126.61" cy="359.15" r="1.95" fill="none" stroke="#44A0E0" stroke-width="0.9"/>
<circle cx="126.61" cy="361.27" r="1.95" fill="none" stroke="#44A0E0" stroke-width="0.9"/>
<circle cx="168" cy="344.03" r="1.95" fill="none" stroke="#44A0E0" stroke-width="0.9"/>
<circle cx="168" cy="346.9" r="1.95" fill="none" stroke="#44A0E0" stroke-width="0.9"/>
<circle cx="223.18" cy="332.53" r="1.95" fill="none" stroke="#44A0E0" stroke-width="0.9"/>
<circle cx="223.18" cy="335.56" r="1.95" fill="none" stroke="#44A0E0" stroke-width="0.9"/>
<circle cx="223.18" cy="343.73" r="1.95" fill="none" stroke="#44A0E0" stroke-width="0.9"/>
<circle cx="112.82" cy="369.74" r="1.95" fill="none" stroke="#DAA730" stroke-width="0.9"/>
<circle cx="126.61" cy="360.06" r="1.95" fill="none" stroke="#DAA730" stroke-width="0.9"/>
<circle cx="126.61" cy="363.08" r="1.95" fill="none" stroke="#DAA730" stroke-width="0.9"/>
<circle cx="168" cy="341.61" r="1.95" fill="none" stroke="#DAA730" stroke-width="0.9"/>
<circle cx="168" cy="348.87" r="1.95" fill="none" stroke="#DAA730" stroke-width="0.9"/>
<circle cx="168" cy="354.77" r="1.95" fill="none" stroke="#DAA730" stroke-width="0.9"/>
<circle cx="223.18" cy="330.72" r="1.95" fill="none" stroke="#DAA730" stroke-width="0.9"/>
<circle cx="223.18" cy="337.52" r="1.95" fill="none" stroke="#DAA730" stroke-width="0.9"/>
<circle cx="223.18" cy="340.55" r="1.95" fill="none" stroke="#DAA730" stroke-width="0.9"/>
</g>
<rect x="107.3" y="282.7" width="121.4" height="91.5" fill="none" stroke="#cfcfcf" stroke-width="0.9"/>
<line x1="229.3" y1="338.28" x2="233" y2="338.28" stroke="#DAA730" stroke-width="1"/>
<text x="241.9" y="340.63" font-size="6.5" fill="#DAA730" text-anchor="middle">20.9</text>
<line x1="229.3" y1="335.71" x2="233" y2="335.71" stroke="#44A0E0" stroke-width="1"/>
<text x="241.9" y="338.06" font-size="6.5" fill="#44A0E0" text-anchor="middle">22.7</text>
<clipPath id="cp11"><rect x="252.6" y="282.7" width="121.4" height="91.5"/></clipPath>
<g clip-path="url(#cp11)">
<path d="M258.12,370.04 L258.23,369.53 L258.46,368.98 L258.81,368.38 L259.27,367.72 L259.84,367.09 L260.42,366.54 L261.57,365.57 L262.72,364.72 L263.87,363.95 L265.02,363.24 L267.32,361.93 L269.61,360.75 L271.91,359.65 L274.21,358.61 L276.51,357.63 L278.81,356.69 L281.11,355.79 L283.41,354.93 L285.71,354.09 L288.01,353.28 L290.31,352.49 L292.61,351.72 L294.91,350.97 L297.21,350.23 L299.5,349.52 L301.8,348.81 L304.1,348.12 L306.4,347.44 L308.7,346.78 L311,346.12 L313.3,345.48 L315.6,344.84 L317.9,344.22 L320.2,343.6 L322.5,342.99 L324.8,342.39 L327.1,341.8 L329.39,341.21 L331.69,340.63 L333.99,340.06 L336.29,339.49 L338.59,338.93 L340.89,338.38 L343.19,337.83 L345.49,337.28 L347.79,336.74 L350.09,336.21 L352.39,335.68 L354.69,335.16 L356.99,334.64 L359.28,334.12 L361.58,333.61 L363.88,333.1 L366.18,332.6 L368.48,332.1 L368.48,339.62 L366.18,340.06 L363.88,340.49 L361.58,340.94 L359.28,341.38 L356.99,341.83 L354.69,342.28 L352.39,342.74 L350.09,343.2 L347.79,343.66 L345.49,344.13 L343.19,344.6 L340.89,345.07 L338.59,345.55 L336.29,346.03 L333.99,346.52 L331.69,347.01 L329.39,347.51 L327.1,348.02 L324.8,348.53 L322.5,349.04 L320.2,349.56 L317.9,350.09 L315.6,350.62 L313.3,351.16 L311,351.71 L308.7,352.26 L306.4,352.83 L304.1,353.4 L301.8,353.98 L299.5,354.58 L297.21,355.18 L294.91,355.79 L292.61,356.42 L290.31,357.06 L288.01,357.71 L285.71,358.38 L283.41,359.07 L281.11,359.78 L278.81,360.52 L276.51,361.28 L274.21,362.07 L271.91,362.89 L269.61,363.76 L267.32,364.69 L265.02,365.69 L263.87,366.23 L262.72,366.81 L261.57,367.43 L260.42,368.11 L259.84,368.49 L259.27,368.91 L258.81,369.23 L258.46,369.53 L258.23,369.79 L258.12,370.04 Z" fill="rgba(225,205,50,0.15)" stroke="none"/>
<path d="M258.12,370.04 L258.23,369.29 L258.46,368.58 L258.81,367.82 L259.27,367.01 L259.84,366.26 L260.42,365.6 L261.57,364.48 L262.72,363.5 L263.87,362.63 L265.02,361.82 L267.32,360.37 L269.61,359.06 L271.91,357.85 L274.21,356.73 L276.51,355.67 L278.81,354.66 L281.11,353.7 L283.41,352.78 L285.71,351.89 L288.01,351.04 L290.31,350.21 L292.61,349.4 L294.91,348.61 L297.21,347.85 L299.5,347.1 L301.8,346.37 L304.1,345.66 L306.4,344.96 L308.7,344.27 L311,343.6 L313.3,342.94 L315.6,342.29 L317.9,341.65 L320.2,341.02 L322.5,340.4 L324.8,339.79 L327.1,339.18 L329.39,338.59 L331.69,338 L333.99,337.42 L336.29,336.85 L338.59,336.28 L340.89,335.73 L343.19,335.17 L345.49,334.63 L347.79,334.08 L350.09,333.55 L352.39,333.02 L354.69,332.5 L356.99,331.98 L359.28,331.46 L361.58,330.95 L363.88,330.45 L366.18,329.94 L368.48,329.45 L368.48,336.83 L366.18,337.27 L363.88,337.71 L361.58,338.16 L359.28,338.62 L356.99,339.07 L354.69,339.53 L352.39,340 L350.09,340.46 L347.79,340.94 L345.49,341.41 L343.19,341.9 L340.89,342.38 L338.59,342.88 L336.29,343.37 L333.99,343.88 L331.69,344.39 L329.39,344.9 L327.1,345.42 L324.8,345.95 L322.5,346.49 L320.2,347.03 L317.9,347.58 L315.6,348.13 L313.3,348.7 L311,349.27 L308.7,349.86 L306.4,350.45 L304.1,351.06 L301.8,351.67 L299.5,352.3 L297.21,352.94 L294.91,353.6 L292.61,354.27 L290.31,354.96 L288.01,355.66 L285.71,356.39 L283.41,357.14 L281.11,357.92 L278.81,358.72 L276.51,359.56 L274.21,360.44 L271.91,361.36 L269.61,362.34 L267.32,363.4 L265.02,364.56 L263.87,365.19 L262.72,365.87 L261.57,366.61 L260.42,367.45 L259.84,367.92 L259.27,368.46 L258.81,368.88 L258.46,369.28 L258.23,369.65 L258.12,370.04 Z" fill="rgba(70,160,230,0.13)" stroke="none"/>
<path d="M258.12,370.04 L258.23,369.47 L258.46,368.93 L258.81,368.35 L259.27,367.73 L259.84,367.09 L260.42,366.53 L261.57,365.54 L262.72,364.69 L263.87,363.91 L265.02,363.19 L267.32,361.88 L269.61,360.7 L271.91,359.61 L274.21,358.58 L276.51,357.61 L278.81,356.69 L281.11,355.81 L283.41,354.96 L285.71,354.14 L288.01,353.35 L290.31,352.58 L292.61,351.83 L294.91,351.11 L297.21,350.4 L299.5,349.7 L301.8,349.02 L304.1,348.36 L306.4,347.71 L308.7,347.07 L311,346.44 L313.3,345.82 L315.6,345.21 L317.9,344.61 L320.2,344.02 L322.5,343.44 L324.8,342.87 L327.1,342.3 L329.39,341.75 L331.69,341.19 L333.99,340.65 L336.29,340.11 L338.59,339.58 L340.89,339.05 L343.19,338.53 L345.49,338.02 L347.79,337.51 L350.09,337.01 L352.39,336.51 L354.69,336.01 L356.99,335.52 L359.28,335.04 L361.58,334.56 L363.88,334.08 L366.18,333.61 L368.48,333.14" fill="none" stroke="#44A0E0" stroke-width="1.1" stroke-dasharray="3.6 3.2"/>
<path d="M258.12,370.04 L258.23,369.66 L258.46,369.26 L258.81,368.8 L259.27,368.31 L259.84,367.79 L260.42,367.32 L261.57,366.5 L262.72,365.77 L263.87,365.09 L265.02,364.47 L267.32,363.31 L269.61,362.26 L271.91,361.27 L274.21,360.34 L276.51,359.45 L278.81,358.61 L281.11,357.79 L283.41,357 L285.71,356.24 L288.01,355.5 L290.31,354.77 L292.61,354.07 L294.91,353.38 L297.21,352.71 L299.5,352.05 L301.8,351.4 L304.1,350.76 L306.4,350.14 L308.7,349.52 L311,348.92 L313.3,348.32 L315.6,347.73 L317.9,347.15 L320.2,346.58 L322.5,346.02 L324.8,345.46 L327.1,344.91 L329.39,344.36 L331.69,343.82 L333.99,343.29 L336.29,342.76 L338.59,342.24 L340.89,341.72 L343.19,341.21 L345.49,340.7 L347.79,340.2 L350.09,339.7 L352.39,339.21 L354.69,338.72 L356.99,338.23 L359.28,337.75 L361.58,337.27 L363.88,336.8 L366.18,336.33 L368.48,335.86" fill="none" stroke="#DAA730" stroke-width="1.1" stroke-dasharray="3.6 3.2"/>
<circle cx="271.91" cy="358.85" r="1.95" fill="none" stroke="#44A0E0" stroke-width="0.9"/>
<circle cx="271.91" cy="362.48" r="1.95" fill="none" stroke="#44A0E0" stroke-width="0.9"/>
<circle cx="313.3" cy="340.55" r="1.95" fill="none" stroke="#44A0E0" stroke-width="0.9"/>
<circle cx="313.3" cy="342.67" r="1.95" fill="none" stroke="#44A0E0" stroke-width="0.9"/>
<circle cx="368.48" cy="331.32" r="1.95" fill="none" stroke="#44A0E0" stroke-width="0.9"/>
<circle cx="368.48" cy="340.55" r="1.95" fill="none" stroke="#44A0E0" stroke-width="0.9"/>
<circle cx="258.12" cy="368.38" r="1.95" fill="none" stroke="#DAA730" stroke-width="0.9"/>
<circle cx="271.91" cy="359.76" r="1.95" fill="none" stroke="#DAA730" stroke-width="0.9"/>
<circle cx="271.91" cy="363.54" r="1.95" fill="none" stroke="#DAA730" stroke-width="0.9"/>
<circle cx="313.3" cy="347.66" r="1.95" fill="none" stroke="#DAA730" stroke-width="0.9"/>
<circle cx="313.3" cy="352.04" r="1.95" fill="none" stroke="#DAA730" stroke-width="0.9"/>
<circle cx="368.48" cy="330.72" r="1.95" fill="none" stroke="#DAA730" stroke-width="0.9"/>
<circle cx="368.48" cy="332.99" r="1.95" fill="none" stroke="#DAA730" stroke-width="0.9"/>
</g>
<rect x="252.6" y="282.7" width="121.4" height="91.5" fill="none" stroke="#cfcfcf" stroke-width="0.9"/>
<line x1="374.6" y1="335.86" x2="378.3" y2="335.86" stroke="#DAA730" stroke-width="1"/>
<text x="387.2" y="338.21" font-size="6.5" fill="#DAA730" text-anchor="middle">22.7</text>
<line x1="374.6" y1="333.14" x2="378.3" y2="333.14" stroke="#44A0E0" stroke-width="1"/>
<text x="387.2" y="335.49" font-size="6.5" fill="#44A0E0" text-anchor="middle">24</text>
<clipPath id="cp12"><rect x="397.9" y="282.7" width="121.4" height="91.5"/></clipPath>
<g clip-path="url(#cp12)">
<path d="M403.42,370.04 L403.53,366.88 L403.76,364.65 L404.11,362.48 L404.57,360.34 L405.14,358.47 L405.72,356.92 L406.87,354.35 L408.02,352.21 L409.17,350.34 L410.32,348.66 L412.62,345.7 L414.91,343.11 L417.21,340.79 L419.51,338.66 L421.81,336.69 L424.11,334.84 L426.41,333.11 L428.71,331.46 L431.01,329.88 L433.31,328.38 L435.61,326.93 L437.91,325.54 L440.21,324.2 L442.51,322.9 L444.8,321.64 L447.1,320.42 L449.4,319.22 L451.7,318.07 L454,316.93 L456.3,315.83 L458.6,314.75 L460.9,313.69 L463.2,312.66 L465.5,311.65 L467.8,310.65 L470.1,309.68 L472.4,308.72 L474.69,307.78 L476.99,306.85 L479.29,305.94 L481.59,305.05 L483.89,304.16 L486.19,303.29 L488.49,302.44 L490.79,301.59 L493.09,300.76 L495.39,299.94 L497.69,299.13 L499.99,298.32 L502.29,297.53 L504.58,296.75 L506.88,295.98 L509.18,295.22 L511.48,294.46 L513.78,293.71 L513.78,306.32 L511.48,307 L509.18,307.69 L506.88,308.39 L504.58,309.1 L502.29,309.81 L499.99,310.54 L497.69,311.27 L495.39,312.01 L493.09,312.76 L490.79,313.52 L488.49,314.29 L486.19,315.07 L483.89,315.86 L481.59,316.66 L479.29,317.47 L476.99,318.3 L474.69,319.14 L472.4,319.99 L470.1,320.86 L467.8,321.74 L465.5,322.64 L463.2,323.56 L460.9,324.49 L458.6,325.44 L456.3,326.41 L454,327.41 L451.7,328.42 L449.4,329.46 L447.1,330.53 L444.8,331.62 L442.51,332.75 L440.21,333.91 L437.91,335.1 L435.61,336.34 L433.31,337.62 L431.01,338.95 L428.71,340.34 L426.41,341.79 L424.11,343.31 L421.81,344.92 L419.51,346.64 L417.21,348.48 L414.91,350.48 L412.62,352.68 L410.32,355.18 L409.17,356.58 L408.02,358.13 L406.87,359.88 L405.72,361.95 L405.14,363.17 L404.57,364.61 L404.11,365.8 L403.76,367.02 L403.53,368.27 L403.42,370.04 Z" fill="rgba(225,205,50,0.15)" stroke="none"/>
<path d="M403.42,370.04 L403.53,367.51 L403.76,365.65 L404.11,363.82 L404.57,362 L405.14,360.35 L405.72,358.97 L406.87,356.68 L408.02,354.75 L409.17,353.06 L410.32,351.54 L412.62,348.85 L414.91,346.48 L417.21,344.35 L419.51,342.39 L421.81,340.57 L424.11,338.86 L426.41,337.25 L428.71,335.72 L431.01,334.25 L433.31,332.85 L435.61,331.5 L437.91,330.21 L440.21,328.95 L442.51,327.73 L444.8,326.55 L447.1,325.4 L449.4,324.29 L451.7,323.2 L454,322.13 L456.3,321.09 L458.6,320.08 L460.9,319.08 L463.2,318.11 L465.5,317.15 L467.8,316.21 L470.1,315.29 L472.4,314.38 L474.69,313.49 L476.99,312.62 L479.29,311.75 L481.59,310.9 L483.89,310.07 L486.19,309.24 L488.49,308.43 L490.79,307.63 L493.09,306.84 L495.39,306.06 L497.69,305.28 L499.99,304.52 L502.29,303.77 L504.58,303.03 L506.88,302.29 L509.18,301.56 L511.48,300.84 L513.78,300.13 L513.78,309.28 L511.48,309.94 L509.18,310.61 L506.88,311.29 L504.58,311.97 L502.29,312.67 L499.99,313.37 L497.69,314.07 L495.39,314.79 L493.09,315.52 L490.79,316.25 L488.49,317 L486.19,317.75 L483.89,318.51 L481.59,319.29 L479.29,320.08 L476.99,320.87 L474.69,321.68 L472.4,322.51 L470.1,323.34 L467.8,324.19 L465.5,325.06 L463.2,325.94 L460.9,326.84 L458.6,327.76 L456.3,328.69 L454,329.64 L451.7,330.62 L449.4,331.62 L447.1,332.64 L444.8,333.69 L442.51,334.77 L440.21,335.88 L437.91,337.03 L435.61,338.21 L433.31,339.43 L431.01,340.7 L428.71,342.02 L426.41,343.41 L424.11,344.86 L421.81,346.39 L419.51,348.02 L417.21,349.76 L414.91,351.65 L412.62,353.73 L410.32,356.08 L409.17,357.4 L408.02,358.85 L406.87,360.49 L405.72,362.42 L405.14,363.55 L404.57,364.89 L404.11,366.05 L403.76,367.23 L403.53,368.42 L403.42,370.04 Z" fill="rgba(70,160,230,0.13)" stroke="none"/>
<path d="M403.42,370.04 L403.53,367.97 L403.76,366.44 L404.11,364.94 L404.57,363.44 L405.14,361.95 L405.72,360.69 L406.87,358.58 L408.02,356.8 L409.17,355.23 L410.32,353.81 L412.62,351.29 L414.91,349.06 L417.21,347.05 L419.51,345.2 L421.81,343.48 L424.11,341.86 L426.41,340.33 L428.71,338.87 L431.01,337.48 L433.31,336.14 L435.61,334.86 L437.91,333.62 L440.21,332.42 L442.51,331.25 L444.8,330.12 L447.1,329.02 L449.4,327.95 L451.7,326.91 L454,325.89 L456.3,324.89 L458.6,323.92 L460.9,322.96 L463.2,322.02 L465.5,321.1 L467.8,320.2 L470.1,319.32 L472.4,318.44 L474.69,317.59 L476.99,316.74 L479.29,315.91 L481.59,315.1 L483.89,314.29 L486.19,313.5 L488.49,312.71 L490.79,311.94 L493.09,311.18 L495.39,310.42 L497.69,309.68 L499.99,308.94 L502.29,308.22 L504.58,307.5 L506.88,306.79 L509.18,306.09 L511.48,305.39 L513.78,304.71" fill="none" stroke="#44A0E0" stroke-width="1.1" stroke-dasharray="3.6 3.2"/>
<path d="M403.42,370.04 L403.53,367.58 L403.76,365.83 L404.11,364.14 L404.57,362.48 L405.14,360.82 L405.72,359.43 L406.87,357.12 L408.02,355.17 L409.17,353.46 L410.32,351.92 L412.62,349.19 L414.91,346.79 L417.21,344.63 L419.51,342.65 L421.81,340.81 L424.11,339.08 L426.41,337.45 L428.71,335.9 L431.01,334.42 L433.31,333 L435.61,331.64 L437.91,330.32 L440.21,329.05 L442.51,327.82 L444.8,326.63 L447.1,325.47 L449.4,324.34 L451.7,323.24 L454,322.17 L456.3,321.12 L458.6,320.1 L460.9,319.09 L463.2,318.11 L465.5,317.14 L467.8,316.2 L470.1,315.27 L472.4,314.36 L474.69,313.46 L476.99,312.58 L479.29,311.71 L481.59,310.85 L483.89,310.01 L486.19,309.18 L488.49,308.36 L490.79,307.55 L493.09,306.76 L495.39,305.97 L497.69,305.2 L499.99,304.43 L502.29,303.67 L504.58,302.93 L506.88,302.19 L509.18,301.45 L511.48,300.73 L513.78,300.02" fill="none" stroke="#DAA730" stroke-width="1.1" stroke-dasharray="3.6 3.2"/>
<circle cx="403.42" cy="369.74" r="1.95" fill="none" stroke="#44A0E0" stroke-width="0.9"/>
<circle cx="417.21" cy="348.26" r="1.95" fill="none" stroke="#44A0E0" stroke-width="0.9"/>
<circle cx="417.21" cy="361.12" r="1.95" fill="none" stroke="#44A0E0" stroke-width="0.9"/>
<circle cx="458.6" cy="318.77" r="1.95" fill="none" stroke="#44A0E0" stroke-width="0.9"/>
<circle cx="458.6" cy="320.43" r="1.95" fill="none" stroke="#44A0E0" stroke-width="0.9"/>
<circle cx="513.78" cy="305.46" r="1.95" fill="none" stroke="#44A0E0" stroke-width="0.9"/>
<circle cx="513.78" cy="317.56" r="1.95" fill="none" stroke="#44A0E0" stroke-width="0.9"/>
<circle cx="403.42" cy="368.98" r="1.95" fill="none" stroke="#DAA730" stroke-width="0.9"/>
<circle cx="417.21" cy="342.97" r="1.95" fill="none" stroke="#DAA730" stroke-width="0.9"/>
<circle cx="417.21" cy="350.53" r="1.95" fill="none" stroke="#DAA730" stroke-width="0.9"/>
<circle cx="458.6" cy="309.39" r="1.95" fill="none" stroke="#DAA730" stroke-width="0.9"/>
<circle cx="458.6" cy="314.08" r="1.95" fill="none" stroke="#DAA730" stroke-width="0.9"/>
<circle cx="458.6" cy="323.46" r="1.95" fill="none" stroke="#DAA730" stroke-width="0.9"/>
<circle cx="513.78" cy="295.93" r="1.95" fill="none" stroke="#DAA730" stroke-width="0.9"/>
<circle cx="513.78" cy="308.18" r="1.95" fill="none" stroke="#DAA730" stroke-width="0.9"/>
<circle cx="513.78" cy="311.66" r="1.95" fill="none" stroke="#DAA730" stroke-width="0.9"/>
</g>
<rect x="397.9" y="282.7" width="121.4" height="91.5" fill="none" stroke="#cfcfcf" stroke-width="0.9"/>
<line x1="519.9" y1="300.02" x2="523.6" y2="300.02" stroke="#DAA730" stroke-width="1"/>
<text x="532.5" y="302.37" font-size="6.5" fill="#DAA730" text-anchor="middle">46.3</text>
<line x1="519.9" y1="305.16" x2="523.6" y2="305.16" stroke="#44A0E0" stroke-width="1"/>
<text x="532.5" y="307.51" font-size="6.5" fill="#44A0E0" text-anchor="middle">43</text>
<clipPath id="cp13"><rect x="543.2" y="282.7" width="121.4" height="91.5"/></clipPath>
<g clip-path="url(#cp13)">
<path d="M548.72,370.04 L548.83,365.77 L549.06,363.1 L549.41,360.61 L549.87,358.23 L550.44,356.15 L551.02,354.45 L552.17,351.68 L553.32,349.4 L554.47,347.42 L555.62,345.67 L557.92,342.6 L560.21,339.95 L562.51,337.58 L564.81,335.44 L567.11,333.46 L569.41,331.61 L571.71,329.88 L574.01,328.25 L576.31,326.7 L578.61,325.22 L580.91,323.8 L583.21,322.44 L585.51,321.13 L587.81,319.87 L590.1,318.65 L592.4,317.47 L594.7,316.32 L597,315.2 L599.3,314.11 L601.6,313.05 L603.9,312.02 L606.2,311.01 L608.5,310.02 L610.8,309.06 L613.1,308.11 L615.4,307.19 L617.7,306.28 L619.99,305.39 L622.29,304.51 L624.59,303.65 L626.89,302.8 L629.19,301.97 L631.49,301.16 L633.79,300.35 L636.09,299.56 L638.39,298.78 L640.69,298.01 L642.99,297.25 L645.29,296.5 L647.59,295.76 L649.88,295.03 L652.18,294.31 L654.48,293.6 L656.78,292.9 L659.08,292.2 L659.08,303.11 L656.78,303.76 L654.48,304.42 L652.18,305.09 L649.88,305.76 L647.59,306.44 L645.29,307.13 L642.99,307.83 L640.69,308.54 L638.39,309.26 L636.09,309.99 L633.79,310.73 L631.49,311.48 L629.19,312.24 L626.89,313.02 L624.59,313.81 L622.29,314.61 L619.99,315.42 L617.7,316.25 L615.4,317.09 L613.1,317.95 L610.8,318.83 L608.5,319.73 L606.2,320.64 L603.9,321.57 L601.6,322.53 L599.3,323.51 L597,324.51 L594.7,325.54 L592.4,326.6 L590.1,327.69 L587.81,328.81 L585.51,329.97 L583.21,331.18 L580.91,332.42 L578.61,333.71 L576.31,335.06 L574.01,336.48 L571.71,337.96 L569.41,339.53 L567.11,341.2 L564.81,342.98 L562.51,344.91 L560.21,347.02 L557.92,349.38 L555.62,352.08 L554.47,353.62 L553.32,355.33 L552.17,357.29 L551.02,359.65 L550.44,361.07 L549.87,362.78 L549.41,364.24 L549.06,365.77 L548.83,367.41 L548.72,370.04 Z" fill="rgba(225,205,50,0.15)" stroke="none"/>
<path d="M548.72,370.04 L548.83,366 L549.06,363.42 L549.41,361.01 L549.87,358.69 L550.44,356.68 L551.02,355.04 L552.17,352.35 L553.32,350.14 L554.47,348.22 L555.62,346.51 L557.92,343.53 L560.21,340.95 L562.51,338.64 L564.81,336.54 L567.11,334.61 L569.41,332.81 L571.71,331.12 L574.01,329.52 L576.31,328 L578.61,326.55 L580.91,325.16 L583.21,323.83 L585.51,322.55 L587.81,321.31 L590.1,320.11 L592.4,318.95 L594.7,317.82 L597,316.72 L599.3,315.66 L601.6,314.62 L603.9,313.6 L606.2,312.61 L608.5,311.64 L610.8,310.69 L613.1,309.76 L615.4,308.85 L617.7,307.95 L619.99,307.08 L622.29,306.22 L624.59,305.37 L626.89,304.54 L629.19,303.72 L631.49,302.91 L633.79,302.12 L636.09,301.34 L638.39,300.57 L640.69,299.81 L642.99,299.06 L645.29,298.32 L647.59,297.59 L649.88,296.88 L652.18,296.17 L654.48,295.47 L656.78,294.77 L659.08,294.09 L659.08,306.75 L656.78,307.38 L654.48,308.02 L652.18,308.66 L649.88,309.32 L647.59,309.98 L645.29,310.65 L642.99,311.33 L640.69,312.02 L638.39,312.72 L636.09,313.42 L633.79,314.14 L631.49,314.87 L629.19,315.61 L626.89,316.36 L624.59,317.12 L622.29,317.9 L619.99,318.68 L617.7,319.49 L615.4,320.3 L613.1,321.13 L610.8,321.98 L608.5,322.85 L606.2,323.73 L603.9,324.63 L601.6,325.56 L599.3,326.5 L597,327.47 L594.7,328.46 L592.4,329.48 L590.1,330.53 L587.81,331.61 L585.51,332.73 L583.21,333.88 L580.91,335.08 L578.61,336.32 L576.31,337.61 L574.01,338.97 L571.71,340.39 L569.41,341.89 L567.11,343.48 L564.81,345.18 L562.51,347.02 L560.21,349.03 L557.92,351.26 L555.62,353.82 L554.47,355.26 L553.32,356.87 L552.17,358.71 L551.02,360.91 L550.44,362.23 L549.87,363.8 L549.41,365.08 L549.06,366.41 L548.83,367.82 L548.72,370.04 Z" fill="rgba(70,160,230,0.13)" stroke="none"/>
<path d="M548.72,370.04 L548.83,366.81 L549.06,364.75 L549.41,362.82 L549.87,360.96 L550.44,359.15 L551.02,357.65 L552.17,355.18 L553.32,353.13 L554.47,351.35 L555.62,349.76 L557.92,346.97 L560.21,344.54 L562.51,342.36 L564.81,340.38 L567.11,338.55 L569.41,336.84 L571.71,335.24 L574.01,333.72 L576.31,332.27 L578.61,330.89 L580.91,329.57 L583.21,328.3 L585.51,327.07 L587.81,325.89 L590.1,324.74 L592.4,323.63 L594.7,322.55 L597,321.5 L599.3,320.48 L601.6,319.48 L603.9,318.5 L606.2,317.55 L608.5,316.62 L610.8,315.71 L613.1,314.82 L615.4,313.94 L617.7,313.08 L619.99,312.24 L622.29,311.41 L624.59,310.59 L626.89,309.79 L629.19,309 L631.49,308.23 L633.79,307.46 L636.09,306.71 L638.39,305.97 L640.69,305.24 L642.99,304.51 L645.29,303.8 L647.59,303.1 L649.88,302.41 L652.18,301.72 L654.48,301.04 L656.78,300.38 L659.08,299.71" fill="none" stroke="#44A0E0" stroke-width="1.1" stroke-dasharray="3.6 3.2"/>
<path d="M548.72,370.04 L548.83,366.54 L549.06,364.35 L549.41,362.31 L549.87,360.35 L550.44,358.45 L551.02,356.88 L552.17,354.3 L553.32,352.17 L554.47,350.31 L555.62,348.66 L557.92,345.76 L560.21,343.25 L562.51,341 L564.81,338.96 L567.11,337.07 L569.41,335.31 L571.71,333.65 L574.01,332.09 L576.31,330.6 L578.61,329.18 L580.91,327.82 L583.21,326.52 L585.51,325.26 L587.81,324.04 L590.1,322.87 L592.4,321.73 L594.7,320.62 L597,319.55 L599.3,318.5 L601.6,317.48 L603.9,316.48 L606.2,315.5 L608.5,314.55 L610.8,313.62 L613.1,312.7 L615.4,311.81 L617.7,310.93 L619.99,310.07 L622.29,309.22 L624.59,308.39 L626.89,307.57 L629.19,306.77 L631.49,305.97 L633.79,305.19 L636.09,304.43 L638.39,303.67 L640.69,302.92 L642.99,302.19 L645.29,301.46 L647.59,300.74 L649.88,300.04 L652.18,299.34 L654.48,298.65 L656.78,297.97 L659.08,297.29" fill="none" stroke="#DAA730" stroke-width="1.1" stroke-dasharray="3.6 3.2"/>
<circle cx="562.51" cy="338.43" r="1.95" fill="none" stroke="#44A0E0" stroke-width="0.9"/>
<circle cx="562.51" cy="348.26" r="1.95" fill="none" stroke="#44A0E0" stroke-width="0.9"/>
<circle cx="603.9" cy="309.7" r="1.95" fill="none" stroke="#44A0E0" stroke-width="0.9"/>
<circle cx="603.9" cy="318.32" r="1.95" fill="none" stroke="#44A0E0" stroke-width="0.9"/>
<circle cx="659.08" cy="295.33" r="1.95" fill="none" stroke="#44A0E0" stroke-width="0.9"/>
<circle cx="659.08" cy="308.03" r="1.95" fill="none" stroke="#44A0E0" stroke-width="0.9"/>
<circle cx="548.72" cy="368.38" r="1.95" fill="none" stroke="#DAA730" stroke-width="0.9"/>
<circle cx="562.51" cy="327.54" r="1.95" fill="none" stroke="#DAA730" stroke-width="0.9"/>
<circle cx="562.51" cy="343.27" r="1.95" fill="none" stroke="#DAA730" stroke-width="0.9"/>
<circle cx="562.51" cy="350.53" r="1.95" fill="none" stroke="#DAA730" stroke-width="0.9"/>
<circle cx="603.9" cy="312.57" r="1.95" fill="none" stroke="#DAA730" stroke-width="0.9"/>
<circle cx="603.9" cy="315.44" r="1.95" fill="none" stroke="#DAA730" stroke-width="0.9"/>
<circle cx="659.08" cy="294.42" r="1.95" fill="none" stroke="#DAA730" stroke-width="0.9"/>
<circle cx="659.08" cy="301.53" r="1.95" fill="none" stroke="#DAA730" stroke-width="0.9"/>
</g>
<rect x="543.2" y="282.7" width="121.4" height="91.5" fill="none" stroke="#cfcfcf" stroke-width="0.9"/>
<line x1="665.2" y1="296.99" x2="668.9" y2="296.99" stroke="#DAA730" stroke-width="1"/>
<text x="677.8" y="299.34" font-size="6.5" fill="#DAA730" text-anchor="middle">48.6</text>
<line x1="665.2" y1="299.41" x2="668.9" y2="299.41" stroke="#44A0E0" stroke-width="1"/>
<text x="677.8" y="301.76" font-size="6.5" fill="#44A0E0" text-anchor="middle">48.5</text>
<line x1="104.4" y1="166.47" x2="107.3" y2="166.47" stroke="#333" stroke-width="0.9"/>
<text x="102.4" y="169.72" font-size="8.3" fill="#4d4d4d" text-anchor="end">0</text>
<line x1="104.4" y1="82.25" x2="107.3" y2="82.25" stroke="#333" stroke-width="0.9"/>
<text x="102.4" y="85.5" font-size="8.3" fill="#4d4d4d" text-anchor="end">50</text>
<line x1="104.4" y1="370.04" x2="107.3" y2="370.04" stroke="#333" stroke-width="0.9"/>
<text x="102.4" y="373.29" font-size="8.3" fill="#4d4d4d" text-anchor="end">0</text>
<line x1="104.4" y1="294.42" x2="107.3" y2="294.42" stroke="#333" stroke-width="0.9"/>
<text x="102.4" y="297.67" font-size="8.3" fill="#4d4d4d" text-anchor="end">50</text>
<line x1="112.82" y1="374.2" x2="112.82" y2="377" stroke="#333" stroke-width="0.9"/>
<text x="112.82" y="384.6" font-size="8.4" fill="#4d4d4d" text-anchor="middle">0</text>
<line x1="126.61" y1="374.2" x2="126.61" y2="377" stroke="#333" stroke-width="0.9"/>
<text x="126.61" y="384.6" font-size="8.4" fill="#4d4d4d" text-anchor="middle">6</text>
<line x1="168" y1="374.2" x2="168" y2="377" stroke="#333" stroke-width="0.9"/>
<text x="168" y="384.6" font-size="8.4" fill="#4d4d4d" text-anchor="middle">24</text>
<line x1="223.18" y1="374.2" x2="223.18" y2="377" stroke="#333" stroke-width="0.9"/>
<text x="223.18" y="384.6" font-size="8.4" fill="#4d4d4d" text-anchor="middle">48</text>
<line x1="258.12" y1="374.2" x2="258.12" y2="377" stroke="#333" stroke-width="0.9"/>
<text x="258.12" y="384.6" font-size="8.4" fill="#4d4d4d" text-anchor="middle">0</text>
<line x1="271.91" y1="374.2" x2="271.91" y2="377" stroke="#333" stroke-width="0.9"/>
<text x="271.91" y="384.6" font-size="8.4" fill="#4d4d4d" text-anchor="middle">6</text>
<line x1="313.3" y1="374.2" x2="313.3" y2="377" stroke="#333" stroke-width="0.9"/>
<text x="313.3" y="384.6" font-size="8.4" fill="#4d4d4d" text-anchor="middle">24</text>
<line x1="368.48" y1="374.2" x2="368.48" y2="377" stroke="#333" stroke-width="0.9"/>
<text x="368.48" y="384.6" font-size="8.4" fill="#4d4d4d" text-anchor="middle">48</text>
<line x1="403.42" y1="374.2" x2="403.42" y2="377" stroke="#333" stroke-width="0.9"/>
<text x="403.42" y="384.6" font-size="8.4" fill="#4d4d4d" text-anchor="middle">0</text>
<line x1="417.21" y1="374.2" x2="417.21" y2="377" stroke="#333" stroke-width="0.9"/>
<text x="417.21" y="384.6" font-size="8.4" fill="#4d4d4d" text-anchor="middle">6</text>
<line x1="458.6" y1="374.2" x2="458.6" y2="377" stroke="#333" stroke-width="0.9"/>
<text x="458.6" y="384.6" font-size="8.4" fill="#4d4d4d" text-anchor="middle">24</text>
<line x1="513.78" y1="374.2" x2="513.78" y2="377" stroke="#333" stroke-width="0.9"/>
<text x="513.78" y="384.6" font-size="8.4" fill="#4d4d4d" text-anchor="middle">48</text>
<line x1="548.72" y1="374.2" x2="548.72" y2="377" stroke="#333" stroke-width="0.9"/>
<text x="548.72" y="384.6" font-size="8.4" fill="#4d4d4d" text-anchor="middle">0</text>
<line x1="562.51" y1="374.2" x2="562.51" y2="377" stroke="#333" stroke-width="0.9"/>
<text x="562.51" y="384.6" font-size="8.4" fill="#4d4d4d" text-anchor="middle">6</text>
<line x1="603.9" y1="374.2" x2="603.9" y2="377" stroke="#333" stroke-width="0.9"/>
<text x="603.9" y="384.6" font-size="8.4" fill="#4d4d4d" text-anchor="middle">24</text>
<line x1="659.08" y1="374.2" x2="659.08" y2="377" stroke="#333" stroke-width="0.9"/>
<text x="659.08" y="384.6" font-size="8.4" fill="#4d4d4d" text-anchor="middle">48</text>
<text x="386.2" y="413.7" font-size="10.45" fill="#111" text-anchor="middle">Incubation time (h)</text>
<text transform="translate(72.3,120.1) rotate(-90)" font-size="10.45" fill="#111" text-anchor="middle">Total SCFA production (mM)</text>
<text transform="translate(72.3,327.7) rotate(-90)" font-size="10.45" fill="#111" text-anchor="middle">Total SCFA production (mM)</text>
<text x="458" y="89.8" font-size="7.6" fill="#DAA730" text-anchor="middle">Basal HMO responders</text>
<line x1="462.2" y1="98.9" x2="474.5" y2="117.3" stroke="#DAA730" stroke-width="0.6"/>
<text x="427.8" y="188.7" font-size="7.65" fill="#44A0E0" text-anchor="middle">Inducible HMO responders</text>
<line x1="440.1" y1="156.3" x2="432.4" y2="173.8" stroke="#44A0E0" stroke-width="0.6"/>
<text x="559" y="6.0" font-size="7.6" fill="#1e1e1e" text-anchor="middle">6-HMO</text>
<text x="559" y="15.1" font-size="7.6" fill="#1e1e1e" text-anchor="middle">supplementation</text>
<text x="640.8" y="6.0" font-size="7.6" fill="#1e1e1e" text-anchor="middle"><tspan font-style="italic">B. infantis</tspan> LMG 11588</text>
<text x="640.8" y="15.1" font-size="7.6" fill="#1e1e1e" text-anchor="middle">supplementation</text>
<path transform="translate(149.4,46.4)" d="M0,-15 C1.2,-13.4 4.9,-10.6 7.1,-8.3 A10.9,10.9 0 1 1 -7.1,-8.3 C-4.9,-10.6 -1.2,-13.4 0,-15 Z" fill="none" stroke="#939393" stroke-width="0.8" stroke-dasharray="1.9 1.45"/>
<path transform="translate(176.2,31.5)" d="M9.7,0.1 C10.4,0.13 11.32,0.63 11.9,1.2 C12.48,1.77 12.8,2.45 13.2,3.5 C13.6,4.55 13.92,6.25 14.3,7.5 C14.68,8.75 15.02,9.93 15.5,11 C15.98,12.07 16.37,12.8 17.2,13.9 C18.03,15 19.45,16.42 20.5,17.6 C21.55,18.78 22.67,20.03 23.5,21 C24.33,21.97 25.1,22.67 25.5,23.4 C25.9,24.13 26.1,24.8 25.9,25.4 C25.7,26 24.88,26.92 24.3,27 C23.72,27.08 23.18,26.57 22.4,25.9 C21.62,25.23 20.62,24.02 19.6,23 C18.58,21.98 17.35,20.8 16.3,19.8 C15.25,18.8 14.22,17.73 13.3,17 C12.38,16.27 11.78,15.77 10.8,15.4 C9.82,15.03 8.6,14.98 7.4,14.8 C6.2,14.62 4.63,14.6 3.6,14.3 C2.57,14 1.77,13.55 1.2,13 C0.63,12.45 0.15,11.63 0.2,11 C0.25,10.37 0.93,9.55 1.5,9.2 C2.07,8.85 2.78,8.8 3.6,8.9 C4.42,9 5.35,9.43 6.4,9.8 C7.45,10.17 9.52,11.57 9.9,11.1 C10.28,10.63 9.1,8.28 8.7,7 C8.3,5.72 7.67,4.4 7.5,3.4 C7.33,2.4 7.33,1.55 7.7,1 C8.07,0.45 9,0.07 9.7,0.1 Z" fill="none" stroke="#939393" stroke-width="0.8" stroke-dasharray="1.9 1.45"/>
<path transform="translate(294.1,46.4)" d="M0,-15 C1.2,-13.4 4.9,-10.6 7.1,-8.3 A10.9,10.9 0 1 1 -7.1,-8.3 C-4.9,-10.6 -1.2,-13.4 0,-15 Z" fill="none" stroke="#939393" stroke-width="0.8" stroke-dasharray="1.9 1.45"/>
<path transform="translate(321,31.5)" d="M9.7,0.1 C10.4,0.13 11.32,0.63 11.9,1.2 C12.48,1.77 12.8,2.45 13.2,3.5 C13.6,4.55 13.92,6.25 14.3,7.5 C14.68,8.75 15.02,9.93 15.5,11 C15.98,12.07 16.37,12.8 17.2,13.9 C18.03,15 19.45,16.42 20.5,17.6 C21.55,18.78 22.67,20.03 23.5,21 C24.33,21.97 25.1,22.67 25.5,23.4 C25.9,24.13 26.1,24.8 25.9,25.4 C25.7,26 24.88,26.92 24.3,27 C23.72,27.08 23.18,26.57 22.4,25.9 C21.62,25.23 20.62,24.02 19.6,23 C18.58,21.98 17.35,20.8 16.3,19.8 C15.25,18.8 14.22,17.73 13.3,17 C12.38,16.27 11.78,15.77 10.8,15.4 C9.82,15.03 8.6,14.98 7.4,14.8 C6.2,14.62 4.63,14.6 3.6,14.3 C2.57,14 1.77,13.55 1.2,13 C0.63,12.45 0.15,11.63 0.2,11 C0.25,10.37 0.93,9.55 1.5,9.2 C2.07,8.85 2.78,8.8 3.6,8.9 C4.42,9 5.35,9.43 6.4,9.8 C7.45,10.17 9.52,11.57 9.9,11.1 C10.28,10.63 9.1,8.28 8.7,7 C8.3,5.72 7.67,4.4 7.5,3.4 C7.33,2.4 7.33,1.55 7.7,1 C8.07,0.45 9,0.07 9.7,0.1 Z" fill="#f1f1f1" stroke="#8a8a8a" stroke-width="0.8"/>
<g transform="translate(438.8,46.6)"><path d="M0,-16 C1.2,-14.2 4.9,-10.8 7.0,-8.4 A10.9,10.9 0 1 1 -7.0,-8.4 C-4.9,-10.8 -1.2,-14.2 0,-16 Z" fill="#fbfbfb" stroke="#8a8a8a" stroke-width="0.8"/>
<circle cx="0" cy="-7" r="2.55" fill="#aaaaaa"/>
<circle cx="-6.7" cy="-2.1" r="2.55" fill="#858585"/>
<circle cx="0" cy="-0.6" r="2.55" fill="#eeeeee"/>
<circle cx="6.4" cy="-2.1" r="2.55" fill="#a8a8a8"/>
<circle cx="-3.6" cy="5.6" r="2.55" fill="#d6d6d6"/>
<circle cx="3.7" cy="5.6" r="2.55" fill="#bdbdbd"/>
</g>
<path transform="translate(465.6,31.5)" d="M9.7,0.1 C10.4,0.13 11.32,0.63 11.9,1.2 C12.48,1.77 12.8,2.45 13.2,3.5 C13.6,4.55 13.92,6.25 14.3,7.5 C14.68,8.75 15.02,9.93 15.5,11 C15.98,12.07 16.37,12.8 17.2,13.9 C18.03,15 19.45,16.42 20.5,17.6 C21.55,18.78 22.67,20.03 23.5,21 C24.33,21.97 25.1,22.67 25.5,23.4 C25.9,24.13 26.1,24.8 25.9,25.4 C25.7,26 24.88,26.92 24.3,27 C23.72,27.08 23.18,26.57 22.4,25.9 C21.62,25.23 20.62,24.02 19.6,23 C18.58,21.98 17.35,20.8 16.3,19.8 C15.25,18.8 14.22,17.73 13.3,17 C12.38,16.27 11.78,15.77 10.8,15.4 C9.82,15.03 8.6,14.98 7.4,14.8 C6.2,14.62 4.63,14.6 3.6,14.3 C2.57,14 1.77,13.55 1.2,13 C0.63,12.45 0.15,11.63 0.2,11 C0.25,10.37 0.93,9.55 1.5,9.2 C2.07,8.85 2.78,8.8 3.6,8.9 C4.42,9 5.35,9.43 6.4,9.8 C7.45,10.17 9.52,11.57 9.9,11.1 C10.28,10.63 9.1,8.28 8.7,7 C8.3,5.72 7.67,4.4 7.5,3.4 C7.33,2.4 7.33,1.55 7.7,1 C8.07,0.45 9,0.07 9.7,0.1 Z" fill="none" stroke="#939393" stroke-width="0.8" stroke-dasharray="1.9 1.45"/>
<g transform="translate(583.4,46.6)"><path d="M0,-16 C1.2,-14.2 4.9,-10.8 7.0,-8.4 A10.9,10.9 0 1 1 -7.0,-8.4 C-4.9,-10.8 -1.2,-14.2 0,-16 Z" fill="#fbfbfb" stroke="#8a8a8a" stroke-width="0.8"/>
<circle cx="0" cy="-7" r="2.55" fill="#aaaaaa"/>
<circle cx="-6.7" cy="-2.1" r="2.55" fill="#858585"/>
<circle cx="0" cy="-0.6" r="2.55" fill="#eeeeee"/>
<circle cx="6.4" cy="-2.1" r="2.55" fill="#a8a8a8"/>
<circle cx="-3.6" cy="5.6" r="2.55" fill="#d6d6d6"/>
<circle cx="3.7" cy="5.6" r="2.55" fill="#bdbdbd"/>
</g>
<path transform="translate(610.4,31.5)" d="M9.7,0.1 C10.4,0.13 11.32,0.63 11.9,1.2 C12.48,1.77 12.8,2.45 13.2,3.5 C13.6,4.55 13.92,6.25 14.3,7.5 C14.68,8.75 15.02,9.93 15.5,11 C15.98,12.07 16.37,12.8 17.2,13.9 C18.03,15 19.45,16.42 20.5,17.6 C21.55,18.78 22.67,20.03 23.5,21 C24.33,21.97 25.1,22.67 25.5,23.4 C25.9,24.13 26.1,24.8 25.9,25.4 C25.7,26 24.88,26.92 24.3,27 C23.72,27.08 23.18,26.57 22.4,25.9 C21.62,25.23 20.62,24.02 19.6,23 C18.58,21.98 17.35,20.8 16.3,19.8 C15.25,18.8 14.22,17.73 13.3,17 C12.38,16.27 11.78,15.77 10.8,15.4 C9.82,15.03 8.6,14.98 7.4,14.8 C6.2,14.62 4.63,14.6 3.6,14.3 C2.57,14 1.77,13.55 1.2,13 C0.63,12.45 0.15,11.63 0.2,11 C0.25,10.37 0.93,9.55 1.5,9.2 C2.07,8.85 2.78,8.8 3.6,8.9 C4.42,9 5.35,9.43 6.4,9.8 C7.45,10.17 9.52,11.57 9.9,11.1 C10.28,10.63 9.1,8.28 8.7,7 C8.3,5.72 7.67,4.4 7.5,3.4 C7.33,2.4 7.33,1.55 7.7,1 C8.07,0.45 9,0.07 9.7,0.1 Z" fill="#f1f1f1" stroke="#8a8a8a" stroke-width="0.8"/>
<path transform="translate(145,260.6)" d="M0,-15 C1.2,-13.4 4.9,-10.6 7.1,-8.3 A10.9,10.9 0 1 1 -7.1,-8.3 C-4.9,-10.6 -1.2,-13.4 0,-15 Z" fill="none" stroke="#939393" stroke-width="0.8" stroke-dasharray="1.9 1.45"/>
<path transform="translate(171.3,245)" d="M9.7,0.1 C10.4,0.13 11.32,0.63 11.9,1.2 C12.48,1.77 12.8,2.45 13.2,3.5 C13.6,4.55 13.92,6.25 14.3,7.5 C14.68,8.75 15.02,9.93 15.5,11 C15.98,12.07 16.37,12.8 17.2,13.9 C18.03,15 19.45,16.42 20.5,17.6 C21.55,18.78 22.67,20.03 23.5,21 C24.33,21.97 25.1,22.67 25.5,23.4 C25.9,24.13 26.1,24.8 25.9,25.4 C25.7,26 24.88,26.92 24.3,27 C23.72,27.08 23.18,26.57 22.4,25.9 C21.62,25.23 20.62,24.02 19.6,23 C18.58,21.98 17.35,20.8 16.3,19.8 C15.25,18.8 14.22,17.73 13.3,17 C12.38,16.27 11.78,15.77 10.8,15.4 C9.82,15.03 8.6,14.98 7.4,14.8 C6.2,14.62 4.63,14.6 3.6,14.3 C2.57,14 1.77,13.55 1.2,13 C0.63,12.45 0.15,11.63 0.2,11 C0.25,10.37 0.93,9.55 1.5,9.2 C2.07,8.85 2.78,8.8 3.6,8.9 C4.42,9 5.35,9.43 6.4,9.8 C7.45,10.17 9.52,11.57 9.9,11.1 C10.28,10.63 9.1,8.28 8.7,7 C8.3,5.72 7.67,4.4 7.5,3.4 C7.33,2.4 7.33,1.55 7.7,1 C8.07,0.45 9,0.07 9.7,0.1 Z" fill="none" stroke="#939393" stroke-width="0.8" stroke-dasharray="1.9 1.45"/>
<path transform="translate(289.4,260.6)" d="M0,-15 C1.2,-13.4 4.9,-10.6 7.1,-8.3 A10.9,10.9 0 1 1 -7.1,-8.3 C-4.9,-10.6 -1.2,-13.4 0,-15 Z" fill="none" stroke="#939393" stroke-width="0.8" stroke-dasharray="1.9 1.45"/>
<path transform="translate(316.2,245)" d="M9.7,0.1 C10.4,0.13 11.32,0.63 11.9,1.2 C12.48,1.77 12.8,2.45 13.2,3.5 C13.6,4.55 13.92,6.25 14.3,7.5 C14.68,8.75 15.02,9.93 15.5,11 C15.98,12.07 16.37,12.8 17.2,13.9 C18.03,15 19.45,16.42 20.5,17.6 C21.55,18.78 22.67,20.03 23.5,21 C24.33,21.97 25.1,22.67 25.5,23.4 C25.9,24.13 26.1,24.8 25.9,25.4 C25.7,26 24.88,26.92 24.3,27 C23.72,27.08 23.18,26.57 22.4,25.9 C21.62,25.23 20.62,24.02 19.6,23 C18.58,21.98 17.35,20.8 16.3,19.8 C15.25,18.8 14.22,17.73 13.3,17 C12.38,16.27 11.78,15.77 10.8,15.4 C9.82,15.03 8.6,14.98 7.4,14.8 C6.2,14.62 4.63,14.6 3.6,14.3 C2.57,14 1.77,13.55 1.2,13 C0.63,12.45 0.15,11.63 0.2,11 C0.25,10.37 0.93,9.55 1.5,9.2 C2.07,8.85 2.78,8.8 3.6,8.9 C4.42,9 5.35,9.43 6.4,9.8 C7.45,10.17 9.52,11.57 9.9,11.1 C10.28,10.63 9.1,8.28 8.7,7 C8.3,5.72 7.67,4.4 7.5,3.4 C7.33,2.4 7.33,1.55 7.7,1 C8.07,0.45 9,0.07 9.7,0.1 Z" fill="#f1f1f1" stroke="#8a8a8a" stroke-width="0.8"/>
<g transform="translate(434.4,260.6)"><path d="M0,-16 C1.2,-14.2 4.9,-10.8 7.0,-8.4 A10.9,10.9 0 1 1 -7.0,-8.4 C-4.9,-10.8 -1.2,-14.2 0,-16 Z" fill="#fbfbfb" stroke="#8a8a8a" stroke-width="0.8"/>
<circle cx="0" cy="-7" r="2.55" fill="#aaaaaa"/>
<circle cx="-6.7" cy="-2.1" r="2.55" fill="#858585"/>
<circle cx="0" cy="-0.6" r="2.55" fill="#eeeeee"/>
<circle cx="6.4" cy="-2.1" r="2.55" fill="#a8a8a8"/>
<circle cx="-3.6" cy="5.6" r="2.55" fill="#d6d6d6"/>
<circle cx="3.7" cy="5.6" r="2.55" fill="#bdbdbd"/>
</g>
<path transform="translate(460.8,245)" d="M9.7,0.1 C10.4,0.13 11.32,0.63 11.9,1.2 C12.48,1.77 12.8,2.45 13.2,3.5 C13.6,4.55 13.92,6.25 14.3,7.5 C14.68,8.75 15.02,9.93 15.5,11 C15.98,12.07 16.37,12.8 17.2,13.9 C18.03,15 19.45,16.42 20.5,17.6 C21.55,18.78 22.67,20.03 23.5,21 C24.33,21.97 25.1,22.67 25.5,23.4 C25.9,24.13 26.1,24.8 25.9,25.4 C25.7,26 24.88,26.92 24.3,27 C23.72,27.08 23.18,26.57 22.4,25.9 C21.62,25.23 20.62,24.02 19.6,23 C18.58,21.98 17.35,20.8 16.3,19.8 C15.25,18.8 14.22,17.73 13.3,17 C12.38,16.27 11.78,15.77 10.8,15.4 C9.82,15.03 8.6,14.98 7.4,14.8 C6.2,14.62 4.63,14.6 3.6,14.3 C2.57,14 1.77,13.55 1.2,13 C0.63,12.45 0.15,11.63 0.2,11 C0.25,10.37 0.93,9.55 1.5,9.2 C2.07,8.85 2.78,8.8 3.6,8.9 C4.42,9 5.35,9.43 6.4,9.8 C7.45,10.17 9.52,11.57 9.9,11.1 C10.28,10.63 9.1,8.28 8.7,7 C8.3,5.72 7.67,4.4 7.5,3.4 C7.33,2.4 7.33,1.55 7.7,1 C8.07,0.45 9,0.07 9.7,0.1 Z" fill="none" stroke="#939393" stroke-width="0.8" stroke-dasharray="1.9 1.45"/>
<g transform="translate(579.1,260.6)"><path d="M0,-16 C1.2,-14.2 4.9,-10.8 7.0,-8.4 A10.9,10.9 0 1 1 -7.0,-8.4 C-4.9,-10.8 -1.2,-14.2 0,-16 Z" fill="#fbfbfb" stroke="#8a8a8a" stroke-width="0.8"/>
<circle cx="0" cy="-7" r="2.55" fill="#aaaaaa"/>
<circle cx="-6.7" cy="-2.1" r="2.55" fill="#858585"/>
<circle cx="0" cy="-0.6" r="2.55" fill="#eeeeee"/>
<circle cx="6.4" cy="-2.1" r="2.55" fill="#a8a8a8"/>
<circle cx="-3.6" cy="5.6" r="2.55" fill="#d6d6d6"/>
<circle cx="3.7" cy="5.6" r="2.55" fill="#bdbdbd"/>
</g>
<path transform="translate(605.8,245)" d="M9.7,0.1 C10.4,0.13 11.32,0.63 11.9,1.2 C12.48,1.77 12.8,2.45 13.2,3.5 C13.6,4.55 13.92,6.25 14.3,7.5 C14.68,8.75 15.02,9.93 15.5,11 C15.98,12.07 16.37,12.8 17.2,13.9 C18.03,15 19.45,16.42 20.5,17.6 C21.55,18.78 22.67,20.03 23.5,21 C24.33,21.97 25.1,22.67 25.5,23.4 C25.9,24.13 26.1,24.8 25.9,25.4 C25.7,26 24.88,26.92 24.3,27 C23.72,27.08 23.18,26.57 22.4,25.9 C21.62,25.23 20.62,24.02 19.6,23 C18.58,21.98 17.35,20.8 16.3,19.8 C15.25,18.8 14.22,17.73 13.3,17 C12.38,16.27 11.78,15.77 10.8,15.4 C9.82,15.03 8.6,14.98 7.4,14.8 C6.2,14.62 4.63,14.6 3.6,14.3 C2.57,14 1.77,13.55 1.2,13 C0.63,12.45 0.15,11.63 0.2,11 C0.25,10.37 0.93,9.55 1.5,9.2 C2.07,8.85 2.78,8.8 3.6,8.9 C4.42,9 5.35,9.43 6.4,9.8 C7.45,10.17 9.52,11.57 9.9,11.1 C10.28,10.63 9.1,8.28 8.7,7 C8.3,5.72 7.67,4.4 7.5,3.4 C7.33,2.4 7.33,1.55 7.7,1 C8.07,0.45 9,0.07 9.7,0.1 Z" fill="#f1f1f1" stroke="#8a8a8a" stroke-width="0.8"/>
<line x1="559.1" y1="24.5" x2="576.6" y2="44.2" stroke="#444" stroke-width="0.7"/>
<line x1="641.2" y1="24.9" x2="624.5" y2="43.5" stroke="#444" stroke-width="0.7"/>
<path d="M45.1,8.7 C46.77,8.68 48.92,8.95 50.5,9.6 C52.08,10.25 53.63,11.4 54.6,12.6 C55.57,13.8 56.02,15.47 56.3,16.8 C56.58,18.13 56.38,19.7 56.3,20.6 C56.22,21.5 55.7,21.7 55.8,22.2 C55.9,22.7 56.77,23 56.9,23.6 C57.03,24.2 57.02,25 56.6,25.8 C56.18,26.6 55.33,27.65 54.4,28.4 C53.47,29.15 51.97,29.67 51,30.3 C50.03,30.93 49.12,31.5 48.6,32.2 C48.08,32.9 47.98,33.53 47.9,34.5 C47.82,35.47 47.87,36.75 48.1,38 C48.33,39.25 48.73,40.73 49.3,42 C49.87,43.27 50.63,44.67 51.5,45.6 C52.37,46.53 53.73,47.03 54.5,47.6 C55.27,48.17 55.93,48.5 56.1,49 C56.27,49.5 56.07,50.25 55.5,50.6 C54.93,50.95 53.75,51.15 52.7,51.1 C51.65,51.05 50.17,50.83 49.2,50.3 C48.23,49.77 47.67,48.95 46.9,47.9 C46.13,46.85 45.2,45.05 44.6,44 C44,42.95 43.73,41.92 43.3,41.6 C42.87,41.28 42.47,41.6 42,42.1 C41.53,42.6 40.8,43.72 40.5,44.6 C40.2,45.48 40,46.77 40.2,47.4 C40.4,48.03 41.27,48.07 41.7,48.4 C42.13,48.73 42.73,49.07 42.8,49.4 C42.87,49.73 42.68,50.17 42.1,50.4 C41.52,50.63 40.35,50.73 39.3,50.8 C38.25,50.87 36.67,51.08 35.8,50.8 C34.93,50.52 34.43,49.87 34.1,49.1 C33.77,48.33 33.95,46.98 33.8,46.2 C33.65,45.42 33.53,44.4 33.2,44.4 C32.87,44.4 32.33,45.33 31.8,46.2 C31.27,47.07 31,48.7 30,49.6 C29,50.5 27.8,51.17 25.8,51.6 C23.8,52.03 20.4,52.13 18,52.2 C15.6,52.27 12.8,52.18 11.4,52 C10,51.82 9.7,51.47 9.6,51.1 C9.5,50.73 10.17,50.27 10.8,49.8 C11.43,49.33 13.73,48.58 13.4,48.3 C13.07,48.02 10.15,48.18 8.8,48.1 C7.45,48.02 6.05,48.05 5.3,47.8 C4.55,47.55 4.28,47.05 4.3,46.6 C4.32,46.15 4.72,45.63 5.4,45.1 C6.08,44.57 7.38,43.77 8.4,43.4 C9.42,43.03 10.47,42.97 11.5,42.9 C12.53,42.83 13.92,43.12 14.6,43 C15.28,42.88 15.5,43.03 15.6,42.2 C15.7,41.37 15.08,39.43 15.2,38 C15.32,36.57 15.53,34.83 16.3,33.6 C17.07,32.37 18.35,31.38 19.8,30.6 C21.25,29.82 23.22,29.4 25,28.9 C26.78,28.4 28.7,28.08 30.5,27.6 C32.3,27.12 34.97,27.02 35.8,26 C36.63,24.98 35.62,23.03 35.5,21.5 C35.38,19.97 34.87,18.32 35.1,16.8 C35.33,15.28 36,13.58 36.9,12.4 C37.8,11.22 39.13,10.32 40.5,9.7 C41.87,9.08 43.43,8.72 45.1,8.7 Z" fill="#d5d5d5" stroke="#858585" stroke-width="1.3" stroke-linejoin="round"/>
<path d="M12.6,48.0 C14.6,47.6 17,46.9 19.2,46.6" fill="none" stroke="#878787" stroke-width="1.1"/>
<text x="31.05" y="41.8" font-size="16.2" fill="#747474" text-anchor="middle">a</text>
<path d="M42.1,20.5 C41.3,19.5 39.3,19.6 39.3,22.5 C39.3,25.4 41.3,25.6 42.1,24.6" fill="none" stroke="#737373" stroke-width="1.05"/>
<path d="M32.3,177.3 C33.9,177.35 36.15,177.3 37.8,178 C39.45,178.7 41.1,180.03 42.2,181.5 C43.3,182.97 43.98,184.97 44.4,186.8 C44.82,188.63 44.85,190.82 44.7,192.5 C44.55,194.18 44.15,195.7 43.5,196.9 C42.85,198.1 41.8,198.98 40.8,199.7 C39.8,200.42 38.2,200.73 37.5,201.2 C36.8,201.67 36.2,202.07 36.6,202.5 C37,202.93 38.58,203.32 39.9,203.8 C41.22,204.28 43.15,204.73 44.5,205.4 C45.85,206.07 46.87,206.78 48,207.8 C49.13,208.82 50.08,210.08 51.3,211.5 C52.52,212.92 53.93,214.92 55.3,216.3 C56.67,217.68 58.28,218.92 59.5,219.8 C60.72,220.68 61.85,220.97 62.6,221.6 C63.35,222.23 63.93,222.88 64,223.6 C64.07,224.32 63.62,225.47 63,225.9 C62.38,226.33 61.22,226.3 60.3,226.2 C59.38,226.1 58.8,225.9 57.5,225.3 C56.2,224.7 54.03,223.43 52.5,222.6 C50.97,221.77 49.55,221 48.3,220.3 C47.05,219.6 45.98,218.78 45,218.4 C44.02,218.02 42.97,217.32 42.4,218 C41.83,218.68 41.78,220.45 41.6,222.5 C41.42,224.55 41.27,227.88 41.3,230.3 C41.33,232.72 41.67,234.72 41.8,237 C41.93,239.28 42.05,241.67 42.1,244 C42.15,246.33 42.05,248.75 42.1,251 C42.15,253.25 42.22,255.33 42.4,257.5 C42.58,259.67 42.87,262.05 43.2,264 C43.53,265.95 44.28,267.85 44.4,269.2 C44.52,270.55 44.37,271.53 43.9,272.1 C43.43,272.67 42.23,272.78 41.6,272.6 C40.97,272.42 40.65,272.3 40.1,271 C39.55,269.7 38.88,266.63 38.3,264.8 C37.72,262.97 37.13,261.33 36.6,260 C36.07,258.67 35.48,258.3 35.1,256.8 C34.72,255.3 34.57,252.82 34.3,251 C34.03,249.18 33.83,247.9 33.5,245.9 C33.17,243.9 32.97,239.73 32.3,239 C31.63,238.27 30.6,240.1 29.5,241.5 C28.4,242.9 26.82,245.48 25.7,247.4 C24.58,249.32 23.7,251.18 22.8,253 C21.9,254.82 21.13,256.55 20.3,258.3 C19.47,260.05 18.55,261.97 17.8,263.5 C17.05,265.03 16.5,266.68 15.8,267.5 C15.1,268.32 14.27,268.58 13.6,268.4 C12.93,268.22 12.08,267.38 11.8,266.4 C11.52,265.42 11.6,263.9 11.9,262.5 C12.2,261.1 12.98,259.83 13.6,258 C14.22,256.17 15,253.52 15.6,251.5 C16.2,249.48 16.68,247.82 17.2,245.9 C17.72,243.98 18.18,241.82 18.7,240 C19.22,238.18 19.82,236.83 20.3,235 C20.78,233.17 21.35,231.08 21.6,229 C21.85,226.92 21.97,224.33 21.8,222.5 C21.63,220.67 21.25,218.35 20.6,218 C19.95,217.65 18.78,219.62 17.9,220.4 C17.02,221.18 16.37,221.78 15.3,222.7 C14.23,223.62 12.75,224.92 11.5,225.9 C10.25,226.88 8.98,228.07 7.8,228.6 C6.62,229.13 5.33,229.32 4.4,229.1 C3.47,228.88 2.5,228.05 2.2,227.3 C1.9,226.55 2.1,225.52 2.6,224.6 C3.1,223.68 4.23,222.85 5.2,221.8 C6.17,220.75 7.38,219.55 8.4,218.3 C9.42,217.05 10.32,215.62 11.3,214.3 C12.28,212.98 13.27,211.57 14.3,210.4 C15.33,209.23 16.38,208.23 17.5,207.3 C18.62,206.37 19.75,205.47 21,204.8 C22.25,204.13 24.18,203.82 25,203.3 C25.82,202.78 25.95,202.27 25.9,201.7 C25.85,201.13 25.3,200.6 24.7,199.9 C24.1,199.2 23.08,198.02 22.3,197.5 C21.52,196.98 20.7,197.17 20,196.8 C19.3,196.43 18.52,196 18.1,195.3 C17.68,194.6 17.43,193.43 17.5,192.6 C17.57,191.77 18.02,190.85 18.5,190.3 C18.98,189.75 20.03,189.97 20.4,189.3 C20.77,188.63 20.47,187.35 20.7,186.3 C20.93,185.25 21.17,184.1 21.8,183 C22.43,181.9 23.43,180.58 24.5,179.7 C25.57,178.82 26.9,178.1 28.2,177.7 C29.5,177.3 30.7,177.25 32.3,177.3 Z" fill="#d5d5d5" stroke="#858585" stroke-width="1.3" stroke-linejoin="round"/>
<text x="31.5" y="228.7" font-size="16.2" fill="#747474" text-anchor="middle">b</text>
</svg></body></html>
